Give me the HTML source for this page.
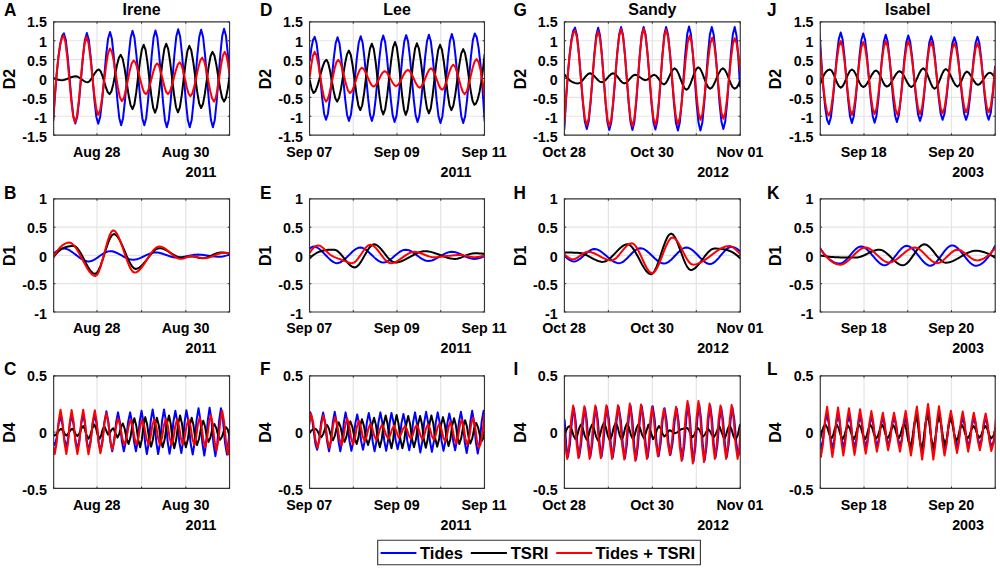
<!DOCTYPE html>
<html><head><meta charset="utf-8"><style>
html,body{margin:0;padding:0;background:#fff;width:1000px;height:569px;overflow:hidden}
body{position:relative}
svg text{font-family:"Liberation Sans", sans-serif;font-weight:bold;fill:#000}
</style></head><body>
<svg width="1000" height="569" viewBox="0 0 1000 569" style="position:absolute;left:0;top:0">
<defs>
<clipPath id="cp00"><rect x="53.66" y="21.87" width="175.89" height="113.27"/></clipPath>
<clipPath id="cp01"><rect x="309.54" y="21.87" width="174.92" height="113.27"/></clipPath>
<clipPath id="cp02"><rect x="564.40" y="21.87" width="175.86" height="113.27"/></clipPath>
<clipPath id="cp03"><rect x="820.27" y="21.87" width="174.96" height="113.27"/></clipPath>
<clipPath id="cp10"><rect x="53.66" y="198.89" width="175.89" height="113.07"/></clipPath>
<clipPath id="cp11"><rect x="309.54" y="198.89" width="174.92" height="113.07"/></clipPath>
<clipPath id="cp12"><rect x="564.40" y="198.89" width="175.86" height="113.07"/></clipPath>
<clipPath id="cp13"><rect x="820.27" y="198.89" width="174.96" height="113.07"/></clipPath>
<clipPath id="cp20"><rect x="53.66" y="375.87" width="175.89" height="112.51"/></clipPath>
<clipPath id="cp21"><rect x="309.54" y="375.87" width="174.92" height="112.51"/></clipPath>
<clipPath id="cp22"><rect x="564.40" y="375.87" width="175.86" height="112.51"/></clipPath>
<clipPath id="cp23"><rect x="820.27" y="375.87" width="174.96" height="112.51"/></clipPath>
</defs>
<line x1="97.00" y1="21.87" x2="97.00" y2="135.14" stroke="#e4e4e4" stroke-width="1.2"/>
<line x1="141.60" y1="21.87" x2="141.60" y2="135.14" stroke="#e4e4e4" stroke-width="1.2"/>
<line x1="185.80" y1="21.87" x2="185.80" y2="135.14" stroke="#e4e4e4" stroke-width="1.2"/>
<line x1="53.66" y1="40.75" x2="229.55" y2="40.75" stroke="#e4e4e4" stroke-width="1.2"/>
<line x1="53.66" y1="59.63" x2="229.55" y2="59.63" stroke="#e4e4e4" stroke-width="1.2"/>
<line x1="53.66" y1="78.50" x2="229.55" y2="78.50" stroke="#e4e4e4" stroke-width="1.2"/>
<line x1="53.66" y1="97.38" x2="229.55" y2="97.38" stroke="#e4e4e4" stroke-width="1.2"/>
<line x1="53.66" y1="116.26" x2="229.55" y2="116.26" stroke="#e4e4e4" stroke-width="1.2"/>
<line x1="53.66" y1="135.14" x2="53.66" y2="133.34" stroke="#262626" stroke-width="1"/>
<line x1="53.66" y1="21.87" x2="53.66" y2="23.67" stroke="#262626" stroke-width="1"/>
<line x1="97.00" y1="135.14" x2="97.00" y2="133.34" stroke="#262626" stroke-width="1"/>
<line x1="97.00" y1="21.87" x2="97.00" y2="23.67" stroke="#262626" stroke-width="1"/>
<line x1="141.60" y1="135.14" x2="141.60" y2="133.34" stroke="#262626" stroke-width="1"/>
<line x1="141.60" y1="21.87" x2="141.60" y2="23.67" stroke="#262626" stroke-width="1"/>
<line x1="185.80" y1="135.14" x2="185.80" y2="133.34" stroke="#262626" stroke-width="1"/>
<line x1="185.80" y1="21.87" x2="185.80" y2="23.67" stroke="#262626" stroke-width="1"/>
<line x1="229.55" y1="135.14" x2="229.55" y2="133.34" stroke="#262626" stroke-width="1"/>
<line x1="229.55" y1="21.87" x2="229.55" y2="23.67" stroke="#262626" stroke-width="1"/>
<line x1="53.66" y1="21.87" x2="55.46" y2="21.87" stroke="#262626" stroke-width="1"/>
<line x1="229.55" y1="21.87" x2="227.75" y2="21.87" stroke="#262626" stroke-width="1"/>
<line x1="53.66" y1="40.75" x2="55.46" y2="40.75" stroke="#262626" stroke-width="1"/>
<line x1="229.55" y1="40.75" x2="227.75" y2="40.75" stroke="#262626" stroke-width="1"/>
<line x1="53.66" y1="59.63" x2="55.46" y2="59.63" stroke="#262626" stroke-width="1"/>
<line x1="229.55" y1="59.63" x2="227.75" y2="59.63" stroke="#262626" stroke-width="1"/>
<line x1="53.66" y1="78.50" x2="55.46" y2="78.50" stroke="#262626" stroke-width="1"/>
<line x1="229.55" y1="78.50" x2="227.75" y2="78.50" stroke="#262626" stroke-width="1"/>
<line x1="53.66" y1="97.38" x2="55.46" y2="97.38" stroke="#262626" stroke-width="1"/>
<line x1="229.55" y1="97.38" x2="227.75" y2="97.38" stroke="#262626" stroke-width="1"/>
<line x1="53.66" y1="116.26" x2="55.46" y2="116.26" stroke="#262626" stroke-width="1"/>
<line x1="229.55" y1="116.26" x2="227.75" y2="116.26" stroke="#262626" stroke-width="1"/>
<line x1="53.66" y1="135.14" x2="55.46" y2="135.14" stroke="#262626" stroke-width="1"/>
<line x1="229.55" y1="135.14" x2="227.75" y2="135.14" stroke="#262626" stroke-width="1"/>
<g clip-path="url(#cp00)" fill="none" stroke-width="2.00" stroke-linejoin="round" stroke-linecap="round">
<path d="M53.22 120.89L55.00 94.61L56.79 72.86L58.57 55.77L60.36 43.43L62.15 35.95L63.93 33.43L65.83 40.10L67.72 56.78L69.61 78.45L71.51 100.12L73.40 116.80L75.29 123.47L77.22 116.77L79.15 100.01L81.08 78.24L83.01 56.46L84.94 39.71L86.87 33.01L88.76 39.72L90.66 56.51L92.55 78.34L94.44 100.17L96.34 116.96L98.23 123.68L100.20 116.88L102.16 99.89L104.13 77.81L106.09 55.72L108.06 38.73L110.02 31.93L111.88 38.84L113.74 56.11L115.59 78.56L117.45 101.01L119.31 118.27L121.17 125.18L123.06 118.19L124.96 100.73L126.85 78.02L128.74 55.31L130.64 37.85L132.53 30.86L134.49 37.85L136.46 55.31L138.42 78.02L140.39 100.73L142.35 118.19L144.32 125.18L146.18 118.16L148.04 100.62L149.89 77.81L151.75 55.00L153.61 37.45L155.47 30.43L157.36 37.61L159.25 55.55L161.15 78.88L163.04 102.20L164.93 120.15L166.83 127.32L168.72 120.05L170.61 101.87L172.51 78.24L174.40 54.60L176.30 36.42L178.19 29.15L180.12 36.42L182.05 54.60L183.98 78.24L185.91 101.87L187.83 120.05L189.76 127.32L191.66 120.10L193.55 102.04L195.44 78.56L197.34 55.08L199.23 37.01L201.13 29.79L203.09 37.01L205.06 55.08L207.02 78.56L208.99 102.04L210.95 120.10L212.92 127.32L214.77 120.02L216.63 101.76L218.49 78.02L220.35 54.28L222.20 36.02L224.06 28.72L225.92 35.41L227.78 53.07L229.64 78.02" stroke="#0000ff"/>
<path d="M53.22 78.02L54.93 78.74L56.65 79.33L58.36 79.78L60.08 80.07L61.79 80.17L63.53 80.00L65.27 79.56L67.02 78.94L68.76 78.24L70.50 77.53L72.24 76.91L73.98 76.47L75.72 76.31L77.69 76.75L79.65 77.86L81.62 79.31L83.58 80.75L85.55 81.86L87.51 82.31L89.41 81.36L91.30 78.97L93.19 75.88L95.09 72.78L96.98 70.40L98.87 69.45L100.66 71.27L102.45 75.84L104.23 81.77L106.02 87.71L107.81 92.27L109.59 94.10L111.45 91.19L113.31 83.93L115.17 74.48L117.02 65.04L118.88 57.78L120.74 54.87L122.70 58.89L124.67 68.93L126.63 81.99L128.60 95.04L130.56 105.09L132.53 109.10L134.39 104.34L136.25 92.43L138.10 76.95L139.96 61.47L141.82 49.56L143.68 44.80L145.57 49.83L147.46 62.41L149.36 78.77L151.25 95.13L153.14 107.71L155.04 112.75L156.90 107.64L158.75 94.85L160.61 78.24L162.47 61.62L164.33 48.84L166.18 43.72L168.15 48.80L170.11 61.51L172.08 78.02L174.04 94.54L176.01 107.24L177.97 112.32L179.87 107.40L181.76 95.09L183.65 79.09L185.55 63.10L187.44 50.79L189.34 45.87L191.30 50.47L193.27 61.98L195.23 76.95L197.20 91.92L199.16 103.43L201.13 108.03L203.02 103.87L204.91 93.47L206.81 79.95L208.70 66.43L210.59 56.03L212.49 51.87L214.42 55.55L216.35 64.76L218.27 76.74L220.20 88.71L222.13 97.92L224.06 101.60L225.92 98.03L227.78 88.75L229.64 75.88" stroke="#000000"/>
<path d="M53.22 119.82L54.93 95.04L56.65 74.25L58.36 57.67L60.08 45.55L61.79 38.11L63.50 35.58L65.43 42.01L67.36 58.09L69.29 78.99L71.22 99.89L73.15 115.96L75.08 122.39L76.97 116.06L78.87 100.22L80.76 79.63L82.65 59.04L84.55 43.20L86.44 36.86L88.41 42.64L90.37 57.09L92.34 75.88L94.30 94.66L96.27 109.11L98.23 114.89L100.20 109.97L102.16 97.66L104.13 81.67L106.09 65.67L108.06 53.36L110.02 48.44L111.99 52.35L113.95 62.11L115.92 74.81L117.88 87.50L119.85 97.27L121.81 101.17L123.78 98.16L125.74 90.61L127.71 80.81L129.67 71.00L131.64 63.46L133.60 60.44L135.35 62.31L137.09 67.12L138.84 73.69L140.58 80.85L142.33 87.43L144.07 92.23L145.82 94.10L147.71 91.83L149.61 86.15L151.50 78.77L153.39 71.39L155.29 65.72L157.18 63.44L158.97 65.72L160.75 71.39L162.54 78.77L164.33 86.15L166.11 91.83L167.90 94.10L169.86 91.75L171.83 85.87L173.79 78.24L175.76 70.60L177.72 64.72L179.69 62.37L181.48 64.88L183.26 71.15L185.05 79.31L186.83 87.46L188.62 93.73L190.41 96.24L192.37 93.38L194.34 86.24L196.30 76.95L198.27 67.66L200.23 60.52L202.20 57.66L204.16 60.91L206.13 69.05L208.09 79.63L210.06 90.21L212.02 98.35L213.99 101.60L215.77 97.92L217.56 88.71L219.35 76.74L221.13 64.76L222.92 55.55L224.71 51.87L226.35 55.05L227.99 63.32L229.64 74.81" stroke="#ff0000"/>
</g>
<rect x="53.66" y="21.87" width="175.89" height="113.27" fill="none" stroke="#333333" stroke-width="1.15" stroke-linejoin="round"/>
<text transform="translate(46.96 27.43) scale(1 1.04)" text-anchor="end" font-size="14.3">1.5</text>
<text transform="translate(46.96 46.53) scale(1 1.04)" text-anchor="end" font-size="14.3">1</text>
<text transform="translate(46.96 65.62) scale(1 1.04)" text-anchor="end" font-size="14.3">0.5</text>
<text transform="translate(46.96 84.72) scale(1 1.04)" text-anchor="end" font-size="14.3">0</text>
<text transform="translate(46.96 103.81) scale(1 1.04)" text-anchor="end" font-size="14.3">-0.5</text>
<text transform="translate(46.96 122.90) scale(1 1.04)" text-anchor="end" font-size="14.3">-1</text>
<text transform="translate(46.96 142.00) scale(1 1.04)" text-anchor="end" font-size="14.3">-1.5</text>
<text transform="translate(96.70 156.54) scale(1 1.04)" text-anchor="middle" font-size="14.3">Aug 28</text>
<text transform="translate(185.50 156.54) scale(1 1.04)" text-anchor="middle" font-size="14.3">Aug 30</text>
<text transform="translate(216.55 176.54) scale(1 1.04)" text-anchor="end" font-size="14.3">2011</text>
<text transform="translate(14.76 89.18) rotate(-90) scale(1 1.04)" font-size="16">D2</text>
<text transform="translate(4.00 15.60) scale(1 1.04)" font-size="17.2">A</text>
<line x1="353.27" y1="21.87" x2="353.27" y2="135.14" stroke="#e4e4e4" stroke-width="1.2"/>
<line x1="397.00" y1="21.87" x2="397.00" y2="135.14" stroke="#e4e4e4" stroke-width="1.2"/>
<line x1="440.73" y1="21.87" x2="440.73" y2="135.14" stroke="#e4e4e4" stroke-width="1.2"/>
<line x1="309.54" y1="40.75" x2="484.46" y2="40.75" stroke="#e4e4e4" stroke-width="1.2"/>
<line x1="309.54" y1="59.63" x2="484.46" y2="59.63" stroke="#e4e4e4" stroke-width="1.2"/>
<line x1="309.54" y1="78.50" x2="484.46" y2="78.50" stroke="#e4e4e4" stroke-width="1.2"/>
<line x1="309.54" y1="97.38" x2="484.46" y2="97.38" stroke="#e4e4e4" stroke-width="1.2"/>
<line x1="309.54" y1="116.26" x2="484.46" y2="116.26" stroke="#e4e4e4" stroke-width="1.2"/>
<line x1="309.54" y1="135.14" x2="309.54" y2="133.34" stroke="#262626" stroke-width="1"/>
<line x1="309.54" y1="21.87" x2="309.54" y2="23.67" stroke="#262626" stroke-width="1"/>
<line x1="353.27" y1="135.14" x2="353.27" y2="133.34" stroke="#262626" stroke-width="1"/>
<line x1="353.27" y1="21.87" x2="353.27" y2="23.67" stroke="#262626" stroke-width="1"/>
<line x1="397.00" y1="135.14" x2="397.00" y2="133.34" stroke="#262626" stroke-width="1"/>
<line x1="397.00" y1="21.87" x2="397.00" y2="23.67" stroke="#262626" stroke-width="1"/>
<line x1="440.73" y1="135.14" x2="440.73" y2="133.34" stroke="#262626" stroke-width="1"/>
<line x1="440.73" y1="21.87" x2="440.73" y2="23.67" stroke="#262626" stroke-width="1"/>
<line x1="484.46" y1="135.14" x2="484.46" y2="133.34" stroke="#262626" stroke-width="1"/>
<line x1="484.46" y1="21.87" x2="484.46" y2="23.67" stroke="#262626" stroke-width="1"/>
<line x1="309.54" y1="21.87" x2="311.34" y2="21.87" stroke="#262626" stroke-width="1"/>
<line x1="484.46" y1="21.87" x2="482.66" y2="21.87" stroke="#262626" stroke-width="1"/>
<line x1="309.54" y1="40.75" x2="311.34" y2="40.75" stroke="#262626" stroke-width="1"/>
<line x1="484.46" y1="40.75" x2="482.66" y2="40.75" stroke="#262626" stroke-width="1"/>
<line x1="309.54" y1="59.63" x2="311.34" y2="59.63" stroke="#262626" stroke-width="1"/>
<line x1="484.46" y1="59.63" x2="482.66" y2="59.63" stroke="#262626" stroke-width="1"/>
<line x1="309.54" y1="78.50" x2="311.34" y2="78.50" stroke="#262626" stroke-width="1"/>
<line x1="484.46" y1="78.50" x2="482.66" y2="78.50" stroke="#262626" stroke-width="1"/>
<line x1="309.54" y1="97.38" x2="311.34" y2="97.38" stroke="#262626" stroke-width="1"/>
<line x1="484.46" y1="97.38" x2="482.66" y2="97.38" stroke="#262626" stroke-width="1"/>
<line x1="309.54" y1="116.26" x2="311.34" y2="116.26" stroke="#262626" stroke-width="1"/>
<line x1="484.46" y1="116.26" x2="482.66" y2="116.26" stroke="#262626" stroke-width="1"/>
<line x1="309.54" y1="135.14" x2="311.34" y2="135.14" stroke="#262626" stroke-width="1"/>
<line x1="484.46" y1="135.14" x2="482.66" y2="135.14" stroke="#262626" stroke-width="1"/>
<g clip-path="url(#cp01)" fill="none" stroke-width="2.00" stroke-linejoin="round" stroke-linecap="round">
<path d="M309.72 60.87L311.36 48.40L313.00 39.96L314.65 36.86L316.54 43.01L318.43 58.37L320.33 78.34L322.22 98.31L324.11 113.68L326.01 119.82L327.94 113.71L329.87 98.43L331.80 78.56L333.72 58.69L335.65 43.41L337.58 37.29L339.48 43.49L341.37 58.97L343.26 79.09L345.16 99.22L347.05 114.70L348.94 120.89L350.91 114.62L352.87 98.94L354.84 78.56L356.80 58.17L358.77 42.49L360.73 36.22L362.59 42.49L364.45 58.17L366.31 78.56L368.17 98.94L370.02 114.62L371.88 120.89L373.77 114.57L375.67 98.77L377.56 78.24L379.46 57.70L381.35 41.90L383.24 35.58L385.14 41.98L387.03 57.97L388.92 78.77L390.82 99.57L392.71 115.57L394.60 121.97L396.53 115.53L398.46 99.46L400.39 78.56L402.32 57.66L404.25 41.58L406.18 35.15L408.07 41.58L409.97 57.66L411.86 78.56L413.75 99.46L415.65 115.53L417.54 121.97L419.43 115.50L421.33 99.35L423.22 78.34L425.11 57.34L427.01 41.18L428.90 34.72L430.83 41.26L432.76 57.62L434.69 78.88L436.62 100.14L438.55 116.50L440.48 123.04L442.37 116.45L444.26 99.97L446.16 78.56L448.05 57.14L449.94 40.67L451.84 34.08L453.73 40.67L455.63 57.14L457.52 78.56L459.41 99.97L461.31 116.45L463.20 123.04L465.13 116.40L467.06 99.81L468.99 78.24L470.92 56.66L472.85 40.07L474.77 33.43L476.75 37.32L478.72 48.59L480.69 66.66L482.66 90.96L484.64 120.89" stroke="#0000ff"/>
<path d="M309.72 80.17L311.65 88.86L313.57 93.03L315.41 91.19L317.25 86.44L319.09 79.95L320.92 72.88L322.76 66.39L324.60 61.64L326.44 59.80L328.22 62.90L330.01 70.64L331.80 80.70L333.58 90.76L335.37 98.50L337.15 101.60L339.12 97.82L341.08 88.37L343.05 76.09L345.01 63.81L346.98 54.36L348.94 50.58L350.84 55.00L352.73 66.03L354.62 80.38L356.52 94.73L358.41 105.76L360.31 110.18L362.23 105.25L364.16 92.95L366.09 76.95L368.02 60.95L369.95 48.65L371.88 43.72L373.77 48.96L375.67 62.06L377.56 79.09L379.46 96.12L381.35 109.22L383.24 114.46L385.21 109.10L387.17 95.68L389.14 78.24L391.10 60.79L393.07 47.38L395.03 42.01L396.82 47.41L398.60 60.90L400.39 78.45L402.18 96.00L403.96 109.49L405.75 114.89L407.61 109.59L409.47 96.33L411.32 79.09L413.18 61.86L415.04 48.60L416.90 43.29L418.90 48.49L420.90 61.47L422.90 78.34L424.90 95.22L426.90 108.20L428.90 113.39L430.76 108.31L432.62 95.61L434.47 79.09L436.33 62.58L438.19 49.88L440.05 44.80L441.94 49.64L443.84 61.75L445.73 77.49L447.62 93.23L449.52 105.33L451.41 110.18L453.37 105.65L455.34 94.34L457.30 79.63L459.27 64.92L461.23 53.61L463.20 49.08L465.06 53.21L466.91 63.53L468.77 76.95L470.63 90.37L472.49 100.69L474.35 104.82L476.06 103.38L477.78 99.11L479.49 92.04L481.21 82.21L482.92 69.66L484.64 54.44" stroke="#000000"/>
<path d="M309.72 76.95L311.36 64.64L313.00 55.47L314.65 51.87L316.54 55.55L318.43 64.76L320.33 76.74L322.22 88.71L324.11 97.92L326.01 101.60L327.75 99.29L329.50 93.31L331.24 85.15L332.99 76.25L334.74 68.09L336.48 62.12L338.23 59.80L340.19 62.26L342.16 68.41L344.12 76.41L346.09 84.41L348.05 90.57L350.02 93.03L351.98 91.15L353.95 86.47L355.91 80.38L357.88 74.29L359.84 69.61L361.81 67.73L363.77 69.13L365.74 72.62L367.70 77.16L369.67 81.71L371.63 85.20L373.60 86.60L375.45 85.45L377.31 82.59L379.17 78.88L381.03 75.16L382.88 72.31L384.74 71.16L386.64 72.27L388.53 75.05L390.42 78.66L392.32 82.28L394.21 85.06L396.10 86.17L398.07 84.96L400.03 81.94L402.00 78.02L403.96 74.10L405.93 71.08L407.89 69.88L409.86 71.19L411.82 74.49L413.79 78.77L415.75 83.05L417.72 86.35L419.68 87.67L421.58 86.24L423.47 82.67L425.36 78.02L427.26 73.38L429.15 69.80L431.05 68.38L432.90 69.96L434.76 73.93L436.62 79.09L438.48 84.25L440.33 88.22L442.19 89.81L444.05 87.95L445.91 83.31L447.77 77.27L449.62 71.23L451.48 66.59L453.34 64.73L455.23 66.91L457.13 72.34L459.02 79.41L460.91 86.48L462.81 91.92L464.70 94.10L466.66 91.51L468.63 85.04L470.59 76.63L472.56 68.22L474.52 61.75L476.49 59.16L478.53 62.04L480.56 69.94L482.60 81.71L484.64 96.24" stroke="#ff0000"/>
</g>
<rect x="309.54" y="21.87" width="174.92" height="113.27" fill="none" stroke="#333333" stroke-width="1.15" stroke-linejoin="round"/>
<text transform="translate(302.84 27.43) scale(1 1.04)" text-anchor="end" font-size="14.3">1.5</text>
<text transform="translate(302.84 46.53) scale(1 1.04)" text-anchor="end" font-size="14.3">1</text>
<text transform="translate(302.84 65.62) scale(1 1.04)" text-anchor="end" font-size="14.3">0.5</text>
<text transform="translate(302.84 84.72) scale(1 1.04)" text-anchor="end" font-size="14.3">0</text>
<text transform="translate(302.84 103.81) scale(1 1.04)" text-anchor="end" font-size="14.3">-0.5</text>
<text transform="translate(302.84 122.90) scale(1 1.04)" text-anchor="end" font-size="14.3">-1</text>
<text transform="translate(302.84 142.00) scale(1 1.04)" text-anchor="end" font-size="14.3">-1.5</text>
<text transform="translate(309.24 156.54) scale(1 1.04)" text-anchor="middle" font-size="14.3">Sep 07</text>
<text transform="translate(396.70 156.54) scale(1 1.04)" text-anchor="middle" font-size="14.3">Sep 09</text>
<text transform="translate(484.16 156.54) scale(1 1.04)" text-anchor="middle" font-size="14.3">Sep 11</text>
<text transform="translate(471.46 176.54) scale(1 1.04)" text-anchor="end" font-size="14.3">2011</text>
<text transform="translate(270.64 89.18) rotate(-90) scale(1 1.04)" font-size="16">D2</text>
<text transform="translate(260.00 15.60) scale(1 1.04)" font-size="17.2">D</text>
<line x1="608.37" y1="21.87" x2="608.37" y2="135.14" stroke="#e4e4e4" stroke-width="1.2"/>
<line x1="652.33" y1="21.87" x2="652.33" y2="135.14" stroke="#e4e4e4" stroke-width="1.2"/>
<line x1="696.29" y1="21.87" x2="696.29" y2="135.14" stroke="#e4e4e4" stroke-width="1.2"/>
<line x1="564.40" y1="40.75" x2="740.26" y2="40.75" stroke="#e4e4e4" stroke-width="1.2"/>
<line x1="564.40" y1="59.63" x2="740.26" y2="59.63" stroke="#e4e4e4" stroke-width="1.2"/>
<line x1="564.40" y1="78.50" x2="740.26" y2="78.50" stroke="#e4e4e4" stroke-width="1.2"/>
<line x1="564.40" y1="97.38" x2="740.26" y2="97.38" stroke="#e4e4e4" stroke-width="1.2"/>
<line x1="564.40" y1="116.26" x2="740.26" y2="116.26" stroke="#e4e4e4" stroke-width="1.2"/>
<line x1="564.40" y1="135.14" x2="564.40" y2="133.34" stroke="#262626" stroke-width="1"/>
<line x1="564.40" y1="21.87" x2="564.40" y2="23.67" stroke="#262626" stroke-width="1"/>
<line x1="608.37" y1="135.14" x2="608.37" y2="133.34" stroke="#262626" stroke-width="1"/>
<line x1="608.37" y1="21.87" x2="608.37" y2="23.67" stroke="#262626" stroke-width="1"/>
<line x1="652.33" y1="135.14" x2="652.33" y2="133.34" stroke="#262626" stroke-width="1"/>
<line x1="652.33" y1="21.87" x2="652.33" y2="23.67" stroke="#262626" stroke-width="1"/>
<line x1="696.29" y1="135.14" x2="696.29" y2="133.34" stroke="#262626" stroke-width="1"/>
<line x1="696.29" y1="21.87" x2="696.29" y2="23.67" stroke="#262626" stroke-width="1"/>
<line x1="740.26" y1="135.14" x2="740.26" y2="133.34" stroke="#262626" stroke-width="1"/>
<line x1="740.26" y1="21.87" x2="740.26" y2="23.67" stroke="#262626" stroke-width="1"/>
<line x1="564.40" y1="21.87" x2="566.20" y2="21.87" stroke="#262626" stroke-width="1"/>
<line x1="740.26" y1="21.87" x2="738.46" y2="21.87" stroke="#262626" stroke-width="1"/>
<line x1="564.40" y1="40.75" x2="566.20" y2="40.75" stroke="#262626" stroke-width="1"/>
<line x1="740.26" y1="40.75" x2="738.46" y2="40.75" stroke="#262626" stroke-width="1"/>
<line x1="564.40" y1="59.63" x2="566.20" y2="59.63" stroke="#262626" stroke-width="1"/>
<line x1="740.26" y1="59.63" x2="738.46" y2="59.63" stroke="#262626" stroke-width="1"/>
<line x1="564.40" y1="78.50" x2="566.20" y2="78.50" stroke="#262626" stroke-width="1"/>
<line x1="740.26" y1="78.50" x2="738.46" y2="78.50" stroke="#262626" stroke-width="1"/>
<line x1="564.40" y1="97.38" x2="566.20" y2="97.38" stroke="#262626" stroke-width="1"/>
<line x1="740.26" y1="97.38" x2="738.46" y2="97.38" stroke="#262626" stroke-width="1"/>
<line x1="564.40" y1="116.26" x2="566.20" y2="116.26" stroke="#262626" stroke-width="1"/>
<line x1="740.26" y1="116.26" x2="738.46" y2="116.26" stroke="#262626" stroke-width="1"/>
<line x1="564.40" y1="135.14" x2="566.20" y2="135.14" stroke="#262626" stroke-width="1"/>
<line x1="740.26" y1="135.14" x2="738.46" y2="135.14" stroke="#262626" stroke-width="1"/>
<g clip-path="url(#cp02)" fill="none" stroke-width="2.00" stroke-linejoin="round" stroke-linecap="round">
<path d="M564.29 129.47L566.07 99.45L567.86 74.30L569.65 54.28L571.43 39.66L573.22 30.69L575.01 27.65L576.97 35.16L578.94 53.93L580.90 78.34L582.87 102.75L584.83 121.53L586.80 129.04L588.69 121.53L590.58 102.75L592.48 78.34L594.37 53.93L596.26 35.16L598.16 27.65L600.01 35.22L601.87 54.16L603.73 78.77L605.59 103.39L607.45 122.32L609.30 129.90L611.27 122.28L613.23 103.22L615.20 78.45L617.16 53.68L619.13 34.62L621.09 27.00L622.99 34.62L624.88 53.68L626.77 78.45L628.67 103.22L630.56 122.28L632.45 129.90L634.31 122.28L636.17 103.22L638.03 78.45L639.89 53.68L641.74 34.62L643.60 27.00L645.57 34.59L647.53 53.57L649.50 78.24L651.46 102.90L653.43 121.88L655.39 129.47L657.18 121.88L658.96 102.90L660.75 78.24L662.54 53.57L664.32 34.59L666.11 27.00L668.07 34.67L670.04 53.85L672.00 78.77L673.97 103.70L675.93 122.87L677.90 130.54L679.76 122.84L681.61 103.59L683.47 78.56L685.33 53.53L687.19 34.28L689.05 26.57L690.94 34.28L692.83 53.53L694.73 78.56L696.62 103.59L698.51 122.84L700.41 130.54L702.30 122.87L704.19 103.70L706.09 78.77L707.98 53.85L709.87 34.67L711.77 27.00L713.70 34.56L715.63 53.46L717.56 78.02L719.49 102.59L721.41 121.48L723.34 129.04L725.24 121.48L727.13 102.59L729.02 78.02L730.92 53.46L732.81 34.56L734.71 27.00L736.49 35.48L738.28 57.20L740.06 86.60" stroke="#0000ff"/>
<path d="M564.29 74.16L566.03 76.54L567.77 78.51L569.51 80.11L571.25 81.35L573.00 82.28L574.74 82.91L576.48 83.27L578.22 83.38L580.19 82.63L582.15 80.77L584.12 78.34L586.08 75.92L588.05 74.05L590.01 73.31L591.98 73.97L593.94 75.64L595.91 77.81L597.87 79.97L599.84 81.64L601.80 82.31L603.69 81.64L605.59 79.97L607.48 77.81L609.37 75.64L611.27 73.97L613.16 73.31L615.02 74.05L616.88 75.92L618.74 78.34L620.59 80.77L622.45 82.63L624.31 83.38L626.10 82.75L627.88 81.16L629.67 79.09L631.45 77.03L633.24 75.44L635.03 74.81L636.81 75.20L638.60 76.20L640.39 77.49L642.17 78.78L643.96 79.77L645.74 80.17L647.46 79.61L649.17 78.28L650.89 76.69L652.60 75.36L654.32 74.81L656.25 75.81L658.18 78.20L660.11 81.06L662.04 83.45L663.97 84.45L665.75 83.26L667.54 80.28L669.32 76.41L671.11 72.54L672.90 69.57L674.68 68.38L676.65 69.96L678.61 73.93L680.58 79.09L682.54 84.25L684.51 88.22L686.47 89.81L688.44 88.14L690.40 83.98L692.37 78.56L694.33 73.14L696.30 68.97L698.26 67.30L700.23 68.89L702.19 72.86L704.16 78.02L706.12 83.18L708.09 87.15L710.05 88.74L711.89 87.61L713.73 84.70L715.57 80.72L717.40 76.39L719.24 72.41L721.08 69.50L722.92 68.38L724.88 69.88L726.85 73.65L728.81 78.56L730.78 83.46L732.74 87.23L734.71 88.74L736.49 87.74L738.28 85.07L740.06 81.24" stroke="#000000"/>
<path d="M564.29 125.18L566.07 97.23L567.86 73.82L569.65 55.20L571.43 41.60L573.22 33.26L575.01 30.43L576.97 37.45L578.94 55.00L580.90 77.81L582.87 100.62L584.83 118.16L586.80 125.18L588.69 118.23L590.58 100.84L592.48 78.24L594.37 55.63L596.26 38.25L598.16 31.29L600.01 38.32L601.87 55.91L603.73 78.77L605.59 101.63L607.45 119.22L609.30 126.25L611.27 119.06L613.23 101.08L615.20 77.70L617.16 54.32L619.13 36.34L621.09 29.15L622.99 36.34L624.88 54.32L626.77 77.70L628.67 101.08L630.56 119.06L632.45 126.25L634.31 119.03L636.17 100.97L638.03 77.49L639.89 54.00L641.74 35.94L643.60 28.72L645.57 35.86L647.53 53.73L649.50 76.95L651.46 100.17L653.43 118.04L655.39 125.18L657.18 118.12L658.96 100.45L660.75 77.49L662.54 54.52L664.32 36.86L666.11 29.79L668.07 36.78L670.04 54.24L672.00 76.95L673.97 99.66L675.93 117.12L677.90 124.11L679.86 117.55L681.83 101.16L683.79 79.84L685.76 58.53L687.72 42.14L689.69 35.58L691.48 41.82L693.26 57.42L695.05 77.70L696.83 97.98L698.62 113.58L700.41 119.82L702.37 113.74L704.34 98.54L706.30 78.77L708.27 59.01L710.23 43.80L712.20 37.72L714.06 43.72L715.91 58.73L717.77 78.24L719.63 97.74L721.49 112.75L723.34 118.75L725.24 112.80L727.13 97.91L729.02 78.56L730.92 59.21L732.81 44.32L734.71 38.36L736.49 42.66L738.28 54.09L740.06 70.52" stroke="#ff0000"/>
</g>
<rect x="564.40" y="21.87" width="175.86" height="113.27" fill="none" stroke="#333333" stroke-width="1.15" stroke-linejoin="round"/>
<text transform="translate(557.70 27.43) scale(1 1.04)" text-anchor="end" font-size="14.3">1.5</text>
<text transform="translate(557.70 46.53) scale(1 1.04)" text-anchor="end" font-size="14.3">1</text>
<text transform="translate(557.70 65.62) scale(1 1.04)" text-anchor="end" font-size="14.3">0.5</text>
<text transform="translate(557.70 84.72) scale(1 1.04)" text-anchor="end" font-size="14.3">0</text>
<text transform="translate(557.70 103.81) scale(1 1.04)" text-anchor="end" font-size="14.3">-0.5</text>
<text transform="translate(557.70 122.90) scale(1 1.04)" text-anchor="end" font-size="14.3">-1</text>
<text transform="translate(557.70 142.00) scale(1 1.04)" text-anchor="end" font-size="14.3">-1.5</text>
<text transform="translate(564.10 156.54) scale(1 1.04)" text-anchor="middle" font-size="14.3">Oct 28</text>
<text transform="translate(652.03 156.54) scale(1 1.04)" text-anchor="middle" font-size="14.3">Oct 30</text>
<text transform="translate(739.96 156.54) scale(1 1.04)" text-anchor="middle" font-size="14.3">Nov 01</text>
<text transform="translate(728.96 176.54) scale(1 1.04)" text-anchor="end" font-size="14.3">2012</text>
<text transform="translate(525.50 89.18) rotate(-90) scale(1 1.04)" font-size="16">D2</text>
<text transform="translate(513.50 15.60) scale(1 1.04)" font-size="17.2">G</text>
<line x1="864.01" y1="21.87" x2="864.01" y2="135.14" stroke="#e4e4e4" stroke-width="1.2"/>
<line x1="907.75" y1="21.87" x2="907.75" y2="135.14" stroke="#e4e4e4" stroke-width="1.2"/>
<line x1="951.49" y1="21.87" x2="951.49" y2="135.14" stroke="#e4e4e4" stroke-width="1.2"/>
<line x1="820.27" y1="40.75" x2="995.23" y2="40.75" stroke="#e4e4e4" stroke-width="1.2"/>
<line x1="820.27" y1="59.63" x2="995.23" y2="59.63" stroke="#e4e4e4" stroke-width="1.2"/>
<line x1="820.27" y1="78.50" x2="995.23" y2="78.50" stroke="#e4e4e4" stroke-width="1.2"/>
<line x1="820.27" y1="97.38" x2="995.23" y2="97.38" stroke="#e4e4e4" stroke-width="1.2"/>
<line x1="820.27" y1="116.26" x2="995.23" y2="116.26" stroke="#e4e4e4" stroke-width="1.2"/>
<line x1="820.27" y1="135.14" x2="820.27" y2="133.34" stroke="#262626" stroke-width="1"/>
<line x1="820.27" y1="21.87" x2="820.27" y2="23.67" stroke="#262626" stroke-width="1"/>
<line x1="864.01" y1="135.14" x2="864.01" y2="133.34" stroke="#262626" stroke-width="1"/>
<line x1="864.01" y1="21.87" x2="864.01" y2="23.67" stroke="#262626" stroke-width="1"/>
<line x1="907.75" y1="135.14" x2="907.75" y2="133.34" stroke="#262626" stroke-width="1"/>
<line x1="907.75" y1="21.87" x2="907.75" y2="23.67" stroke="#262626" stroke-width="1"/>
<line x1="951.49" y1="135.14" x2="951.49" y2="133.34" stroke="#262626" stroke-width="1"/>
<line x1="951.49" y1="21.87" x2="951.49" y2="23.67" stroke="#262626" stroke-width="1"/>
<line x1="995.23" y1="135.14" x2="995.23" y2="133.34" stroke="#262626" stroke-width="1"/>
<line x1="995.23" y1="21.87" x2="995.23" y2="23.67" stroke="#262626" stroke-width="1"/>
<line x1="820.27" y1="21.87" x2="822.07" y2="21.87" stroke="#262626" stroke-width="1"/>
<line x1="995.23" y1="21.87" x2="993.43" y2="21.87" stroke="#262626" stroke-width="1"/>
<line x1="820.27" y1="40.75" x2="822.07" y2="40.75" stroke="#262626" stroke-width="1"/>
<line x1="995.23" y1="40.75" x2="993.43" y2="40.75" stroke="#262626" stroke-width="1"/>
<line x1="820.27" y1="59.63" x2="822.07" y2="59.63" stroke="#262626" stroke-width="1"/>
<line x1="995.23" y1="59.63" x2="993.43" y2="59.63" stroke="#262626" stroke-width="1"/>
<line x1="820.27" y1="78.50" x2="822.07" y2="78.50" stroke="#262626" stroke-width="1"/>
<line x1="995.23" y1="78.50" x2="993.43" y2="78.50" stroke="#262626" stroke-width="1"/>
<line x1="820.27" y1="97.38" x2="822.07" y2="97.38" stroke="#262626" stroke-width="1"/>
<line x1="995.23" y1="97.38" x2="993.43" y2="97.38" stroke="#262626" stroke-width="1"/>
<line x1="820.27" y1="116.26" x2="822.07" y2="116.26" stroke="#262626" stroke-width="1"/>
<line x1="995.23" y1="116.26" x2="993.43" y2="116.26" stroke="#262626" stroke-width="1"/>
<line x1="820.27" y1="135.14" x2="822.07" y2="135.14" stroke="#262626" stroke-width="1"/>
<line x1="995.23" y1="135.14" x2="993.43" y2="135.14" stroke="#262626" stroke-width="1"/>
<g clip-path="url(#cp03)" fill="none" stroke-width="2.00" stroke-linejoin="round" stroke-linecap="round">
<path d="M819.72 34.08L821.56 64.04L823.40 88.94L825.25 107.87L827.09 119.90L828.93 124.11L830.90 117.33L832.86 100.38L834.83 78.34L836.79 56.31L838.76 39.36L840.72 32.58L842.58 39.28L844.44 56.03L846.30 77.81L848.15 99.58L850.01 116.34L851.87 123.04L853.76 116.40L855.66 99.81L857.55 78.24L859.44 56.66L861.34 40.07L863.23 33.43L865.13 40.04L867.02 56.55L868.91 78.02L870.81 99.49L872.70 116.00L874.59 122.61L876.45 116.10L878.31 99.82L880.17 78.66L882.02 57.51L883.88 41.23L885.74 34.72L887.60 41.18L889.46 57.34L891.31 78.34L893.17 99.35L895.03 115.50L896.89 121.97L898.78 115.57L900.67 99.57L902.57 78.77L904.46 57.97L906.35 41.98L908.25 35.58L910.21 41.90L912.18 57.70L914.14 78.24L916.11 98.77L918.07 114.57L920.04 120.89L921.90 114.62L923.75 98.94L925.61 78.56L927.47 58.17L929.33 42.49L931.18 36.22L933.08 42.41L934.97 57.90L936.86 78.02L938.76 98.15L940.65 113.63L942.55 119.82L944.51 113.71L946.48 98.43L948.44 78.56L950.41 58.69L952.37 43.41L954.34 37.29L956.30 43.41L958.27 58.69L960.23 78.56L962.20 98.43L964.16 113.71L966.13 119.82L968.02 113.68L969.91 98.31L971.81 78.34L973.70 58.37L975.59 43.01L977.49 36.86L979.34 43.01L981.20 58.37L983.06 78.34L984.92 98.31L986.78 113.68L988.63 119.82L990.78 112.75L992.92 93.91L995.06 66.87" stroke="#0000ff"/>
<path d="M819.72 85.52L821.43 80.57L823.15 76.54L824.86 73.42L826.58 71.21L828.29 69.89L830.01 69.45L831.79 70.80L833.58 74.17L835.36 78.56L837.15 82.94L838.94 86.32L840.72 87.67L842.58 86.32L844.44 82.94L846.30 78.56L848.15 74.17L850.01 70.80L851.87 69.45L853.76 70.75L855.66 74.00L857.55 78.24L859.44 82.47L861.34 85.72L863.23 87.02L865.07 86.11L866.91 83.75L868.74 80.53L870.58 77.02L872.42 73.79L874.26 71.43L876.09 70.52L877.88 71.71L879.67 74.69L881.45 78.56L883.24 82.43L885.03 85.41L886.81 86.60L888.65 85.74L890.49 83.54L892.32 80.52L894.16 77.24L896.00 74.22L897.84 72.02L899.67 71.16L901.64 72.34L903.60 75.27L905.57 79.09L907.53 82.91L909.50 85.85L911.46 87.02L913.43 85.64L915.39 82.19L917.36 77.70L919.32 73.21L921.29 69.76L923.25 68.38L925.15 69.88L927.04 73.65L928.93 78.56L930.83 83.46L932.72 87.23L934.61 88.74L936.47 87.28L938.33 83.63L940.19 78.88L942.05 74.13L943.90 70.48L945.76 69.02L947.73 70.32L949.69 73.58L951.66 77.81L953.62 82.04L955.59 85.29L957.55 86.60L959.39 85.04L961.24 81.31L963.08 76.87L964.92 73.15L966.77 71.59L968.63 72.58L970.48 75.04L972.34 78.24L974.20 81.44L976.06 83.90L977.92 84.88L979.88 83.98L981.85 81.71L983.81 78.77L985.78 75.83L987.74 73.57L989.71 72.66L991.49 73.40L993.28 75.33L995.06 78.02" stroke="#000000"/>
<path d="M819.72 42.65L821.56 66.92L823.40 87.08L825.25 102.40L827.09 112.13L828.93 115.53L830.90 110.02L832.86 96.25L834.83 78.34L836.79 60.44L838.76 46.66L840.72 41.15L842.58 46.61L844.44 60.27L846.30 78.02L848.15 95.77L850.01 109.43L851.87 114.89L853.76 109.49L855.66 96.00L857.55 78.45L859.44 60.90L861.34 47.41L863.23 42.01L865.13 47.34L867.02 60.68L868.91 78.02L870.81 95.36L872.70 108.70L874.59 114.03L876.45 108.64L878.31 95.14L880.17 77.59L882.02 60.05L883.88 46.55L885.74 41.15L887.70 46.61L889.67 60.27L891.63 78.02L893.60 95.77L895.56 109.43L897.53 114.89L899.32 109.43L901.10 95.77L902.89 78.02L904.67 60.27L906.46 46.61L908.25 41.15L910.21 46.55L912.18 60.05L914.14 77.59L916.11 95.14L918.07 108.64L920.04 114.03L921.90 108.70L923.75 95.36L925.61 78.02L927.47 60.68L929.33 47.34L931.18 42.01L933.08 47.30L934.97 60.52L936.86 77.70L938.76 94.88L940.65 108.10L942.55 113.39L944.51 108.20L946.48 95.22L948.44 78.34L950.41 61.47L952.37 48.49L954.34 43.29L956.30 48.41L958.27 61.19L960.23 77.81L962.20 94.42L964.16 107.21L966.13 112.32L968.02 107.21L969.91 94.42L971.81 77.81L973.70 61.19L975.59 48.41L977.49 43.29L979.34 48.41L981.20 61.19L983.06 77.81L984.92 94.42L986.78 107.21L988.63 112.32L990.78 106.45L992.92 90.82L995.06 68.38" stroke="#ff0000"/>
</g>
<rect x="820.27" y="21.87" width="174.96" height="113.27" fill="none" stroke="#333333" stroke-width="1.15" stroke-linejoin="round"/>
<text transform="translate(813.57 27.43) scale(1 1.04)" text-anchor="end" font-size="14.3">1.5</text>
<text transform="translate(813.57 46.53) scale(1 1.04)" text-anchor="end" font-size="14.3">1</text>
<text transform="translate(813.57 65.62) scale(1 1.04)" text-anchor="end" font-size="14.3">0.5</text>
<text transform="translate(813.57 84.72) scale(1 1.04)" text-anchor="end" font-size="14.3">0</text>
<text transform="translate(813.57 103.81) scale(1 1.04)" text-anchor="end" font-size="14.3">-0.5</text>
<text transform="translate(813.57 122.90) scale(1 1.04)" text-anchor="end" font-size="14.3">-1</text>
<text transform="translate(813.57 142.00) scale(1 1.04)" text-anchor="end" font-size="14.3">-1.5</text>
<text transform="translate(863.71 156.54) scale(1 1.04)" text-anchor="middle" font-size="14.3">Sep 18</text>
<text transform="translate(951.19 156.54) scale(1 1.04)" text-anchor="middle" font-size="14.3">Sep 20</text>
<text transform="translate(983.93 176.54) scale(1 1.04)" text-anchor="end" font-size="14.3">2003</text>
<text transform="translate(781.37 89.18) rotate(-90) scale(1 1.04)" font-size="16">D2</text>
<text transform="translate(766.90 15.60) scale(1 1.04)" font-size="17.2">J</text>
<line x1="97.00" y1="198.89" x2="97.00" y2="311.96" stroke="#e4e4e4" stroke-width="1.2"/>
<line x1="141.60" y1="198.89" x2="141.60" y2="311.96" stroke="#e4e4e4" stroke-width="1.2"/>
<line x1="185.80" y1="198.89" x2="185.80" y2="311.96" stroke="#e4e4e4" stroke-width="1.2"/>
<line x1="53.66" y1="227.16" x2="229.55" y2="227.16" stroke="#e4e4e4" stroke-width="1.2"/>
<line x1="53.66" y1="255.42" x2="229.55" y2="255.42" stroke="#e4e4e4" stroke-width="1.2"/>
<line x1="53.66" y1="283.69" x2="229.55" y2="283.69" stroke="#e4e4e4" stroke-width="1.2"/>
<line x1="53.66" y1="311.96" x2="53.66" y2="310.16" stroke="#262626" stroke-width="1"/>
<line x1="53.66" y1="198.89" x2="53.66" y2="200.69" stroke="#262626" stroke-width="1"/>
<line x1="97.00" y1="311.96" x2="97.00" y2="310.16" stroke="#262626" stroke-width="1"/>
<line x1="97.00" y1="198.89" x2="97.00" y2="200.69" stroke="#262626" stroke-width="1"/>
<line x1="141.60" y1="311.96" x2="141.60" y2="310.16" stroke="#262626" stroke-width="1"/>
<line x1="141.60" y1="198.89" x2="141.60" y2="200.69" stroke="#262626" stroke-width="1"/>
<line x1="185.80" y1="311.96" x2="185.80" y2="310.16" stroke="#262626" stroke-width="1"/>
<line x1="185.80" y1="198.89" x2="185.80" y2="200.69" stroke="#262626" stroke-width="1"/>
<line x1="229.55" y1="311.96" x2="229.55" y2="310.16" stroke="#262626" stroke-width="1"/>
<line x1="229.55" y1="198.89" x2="229.55" y2="200.69" stroke="#262626" stroke-width="1"/>
<line x1="53.66" y1="198.89" x2="55.46" y2="198.89" stroke="#262626" stroke-width="1"/>
<line x1="229.55" y1="198.89" x2="227.75" y2="198.89" stroke="#262626" stroke-width="1"/>
<line x1="53.66" y1="227.16" x2="55.46" y2="227.16" stroke="#262626" stroke-width="1"/>
<line x1="229.55" y1="227.16" x2="227.75" y2="227.16" stroke="#262626" stroke-width="1"/>
<line x1="53.66" y1="255.42" x2="55.46" y2="255.42" stroke="#262626" stroke-width="1"/>
<line x1="229.55" y1="255.42" x2="227.75" y2="255.42" stroke="#262626" stroke-width="1"/>
<line x1="53.66" y1="283.69" x2="55.46" y2="283.69" stroke="#262626" stroke-width="1"/>
<line x1="229.55" y1="283.69" x2="227.75" y2="283.69" stroke="#262626" stroke-width="1"/>
<line x1="53.66" y1="311.96" x2="55.46" y2="311.96" stroke="#262626" stroke-width="1"/>
<line x1="229.55" y1="311.96" x2="227.75" y2="311.96" stroke="#262626" stroke-width="1"/>
<g clip-path="url(#cp10)" fill="none" stroke-width="2.00" stroke-linejoin="round" stroke-linecap="round">
<path d="M53.22 253.95L55.23 252.26L57.25 250.74L59.26 249.51L61.28 248.68L63.29 248.38L65.10 248.57L66.90 249.10L68.71 249.92L70.52 250.97L72.32 252.19L74.13 253.52L75.94 254.91L77.74 256.31L79.55 257.64L81.36 258.86L83.16 259.91L84.97 260.73L86.78 261.26L88.59 261.45L90.37 261.25L92.16 260.69L93.94 259.84L95.73 258.78L97.52 257.58L99.30 256.31L101.09 255.03L102.88 253.83L104.66 252.77L106.45 251.93L108.24 251.37L110.02 251.16L111.95 251.33L113.88 251.80L115.81 252.50L117.74 253.39L119.67 254.39L121.60 255.45L123.53 256.51L125.46 257.51L127.38 258.40L129.31 259.10L131.24 259.57L133.17 259.74L135.03 259.59L136.89 259.20L138.75 258.60L140.60 257.85L142.46 257.00L144.32 256.09L146.18 255.19L148.04 254.34L149.89 253.59L151.75 252.99L153.61 252.59L155.47 252.45L157.25 252.55L159.04 252.83L160.83 253.25L162.61 253.78L164.40 254.38L166.18 255.02L167.97 255.66L169.76 256.26L171.54 256.79L173.33 257.21L175.12 257.49L176.90 257.59L178.81 257.52L180.72 257.33L182.63 257.05L184.54 256.69L186.45 256.30L188.36 255.89L190.27 255.49L192.18 255.14L194.09 254.85L196.00 254.66L197.91 254.59L199.70 254.63L201.48 254.75L203.27 254.93L205.06 255.15L206.84 255.40L208.63 255.66L210.41 255.93L212.20 256.18L213.99 256.40L215.77 256.58L217.56 256.69L219.35 256.74L221.06 256.65L222.78 256.42L224.49 256.06L226.21 255.62L227.92 255.12L229.64 254.59" stroke="#0000ff"/>
<path d="M53.22 257.59L55.07 255.06L56.92 252.92L58.77 251.14L60.62 249.68L62.47 248.52L64.32 247.63L66.17 246.96L68.03 246.50L69.88 246.21L71.73 246.06L73.58 246.02L75.37 246.57L77.15 248.08L78.94 250.37L80.73 253.24L82.51 256.50L84.30 259.95L86.08 263.40L87.87 266.66L89.66 269.53L91.44 271.82L93.23 273.34L95.02 273.89L96.90 272.77L98.79 269.74L100.68 265.27L102.56 259.85L104.45 253.95L106.33 248.05L108.22 242.63L110.11 238.16L111.99 235.13L113.88 234.01L115.70 234.70L117.52 236.60L119.35 239.47L121.17 243.07L122.99 247.16L124.81 251.48L126.63 255.81L128.46 259.90L130.28 263.50L132.10 266.37L133.92 268.27L135.74 268.95L137.56 268.60L139.37 267.63L141.19 266.14L143.00 264.26L144.81 262.09L146.63 259.76L148.44 257.36L150.26 255.02L152.07 252.86L153.88 250.97L155.70 249.49L157.51 248.51L159.32 248.16L161.20 248.35L163.08 248.86L164.95 249.64L166.83 250.61L168.70 251.71L170.58 252.88L172.45 254.05L174.33 255.15L176.21 256.12L178.08 256.90L179.96 257.41L181.83 257.59L183.76 257.46L185.69 257.14L187.62 256.76L189.55 256.44L191.48 256.31L193.27 256.45L195.05 256.81L196.84 257.27L198.62 257.74L200.41 258.09L202.20 258.24L204.13 258.07L206.06 257.63L207.98 256.99L209.91 256.20L211.84 255.34L213.77 254.49L215.70 253.70L217.63 253.05L219.56 252.61L221.49 252.45L223.53 252.50L225.56 252.65L227.60 252.91L229.64 253.31" stroke="#000000"/>
<path d="M53.22 257.17L55.00 254.21L56.79 251.57L58.57 249.24L60.36 247.25L62.15 245.60L63.93 244.30L65.72 243.35L67.51 242.78L69.29 242.59L71.16 243.08L73.03 244.44L74.90 246.54L76.76 249.22L78.63 252.34L80.50 255.75L82.37 259.31L84.24 262.87L86.10 266.28L87.97 269.40L89.84 272.08L91.71 274.18L93.58 275.54L95.44 276.03L97.22 274.75L99.00 271.28L100.78 266.17L102.56 259.96L104.34 253.20L106.12 246.44L107.90 240.23L109.68 235.12L111.46 231.65L113.24 230.37L115.02 231.20L116.81 233.50L118.60 236.97L120.38 241.32L122.17 246.25L123.95 251.48L125.74 256.71L127.53 261.65L129.31 266.00L131.10 269.47L132.89 271.77L134.67 272.60L136.57 272.16L138.47 270.93L140.36 269.06L142.26 266.69L144.15 263.97L146.05 261.03L147.95 258.02L149.84 255.08L151.74 252.35L153.64 249.98L155.53 248.11L157.43 246.89L159.32 246.45L161.11 246.69L162.90 247.37L164.68 248.39L166.47 249.67L168.26 251.12L170.04 252.66L171.83 254.20L173.62 255.66L175.40 256.94L177.19 257.96L178.97 258.64L180.76 258.88L182.55 258.67L184.33 258.16L186.12 257.49L187.91 256.82L189.69 256.30L191.48 256.09L193.32 256.21L195.15 256.52L196.99 256.94L198.83 257.39L200.67 257.81L202.50 258.12L204.34 258.24L206.27 258.09L208.20 257.68L210.13 257.08L212.06 256.35L213.99 255.56L215.92 254.76L217.85 254.04L219.77 253.44L221.70 253.03L223.63 252.88L225.63 252.88L227.63 252.88L229.64 252.88" stroke="#ff0000"/>
</g>
<rect x="53.66" y="198.89" width="175.89" height="113.07" fill="none" stroke="#333333" stroke-width="1.15" stroke-linejoin="round"/>
<text transform="translate(46.96 204.45) scale(1 1.04)" text-anchor="end" font-size="14.3">1</text>
<text transform="translate(46.96 233.04) scale(1 1.04)" text-anchor="end" font-size="14.3">0.5</text>
<text transform="translate(46.96 261.63) scale(1 1.04)" text-anchor="end" font-size="14.3">0</text>
<text transform="translate(46.96 290.23) scale(1 1.04)" text-anchor="end" font-size="14.3">-0.5</text>
<text transform="translate(46.96 318.82) scale(1 1.04)" text-anchor="end" font-size="14.3">-1</text>
<text transform="translate(96.70 333.36) scale(1 1.04)" text-anchor="middle" font-size="14.3">Aug 28</text>
<text transform="translate(185.50 333.36) scale(1 1.04)" text-anchor="middle" font-size="14.3">Aug 30</text>
<text transform="translate(216.55 353.36) scale(1 1.04)" text-anchor="end" font-size="14.3">2011</text>
<text transform="translate(14.76 266.10) rotate(-90) scale(1 1.04)" font-size="16">D1</text>
<text transform="translate(4.00 198.50) scale(1 1.04)" font-size="17.2">B</text>
<line x1="353.27" y1="198.89" x2="353.27" y2="311.96" stroke="#e4e4e4" stroke-width="1.2"/>
<line x1="397.00" y1="198.89" x2="397.00" y2="311.96" stroke="#e4e4e4" stroke-width="1.2"/>
<line x1="440.73" y1="198.89" x2="440.73" y2="311.96" stroke="#e4e4e4" stroke-width="1.2"/>
<line x1="309.54" y1="227.16" x2="484.46" y2="227.16" stroke="#e4e4e4" stroke-width="1.2"/>
<line x1="309.54" y1="255.42" x2="484.46" y2="255.42" stroke="#e4e4e4" stroke-width="1.2"/>
<line x1="309.54" y1="283.69" x2="484.46" y2="283.69" stroke="#e4e4e4" stroke-width="1.2"/>
<line x1="309.54" y1="311.96" x2="309.54" y2="310.16" stroke="#262626" stroke-width="1"/>
<line x1="309.54" y1="198.89" x2="309.54" y2="200.69" stroke="#262626" stroke-width="1"/>
<line x1="353.27" y1="311.96" x2="353.27" y2="310.16" stroke="#262626" stroke-width="1"/>
<line x1="353.27" y1="198.89" x2="353.27" y2="200.69" stroke="#262626" stroke-width="1"/>
<line x1="397.00" y1="311.96" x2="397.00" y2="310.16" stroke="#262626" stroke-width="1"/>
<line x1="397.00" y1="198.89" x2="397.00" y2="200.69" stroke="#262626" stroke-width="1"/>
<line x1="440.73" y1="311.96" x2="440.73" y2="310.16" stroke="#262626" stroke-width="1"/>
<line x1="440.73" y1="198.89" x2="440.73" y2="200.69" stroke="#262626" stroke-width="1"/>
<line x1="484.46" y1="311.96" x2="484.46" y2="310.16" stroke="#262626" stroke-width="1"/>
<line x1="484.46" y1="198.89" x2="484.46" y2="200.69" stroke="#262626" stroke-width="1"/>
<line x1="309.54" y1="198.89" x2="311.34" y2="198.89" stroke="#262626" stroke-width="1"/>
<line x1="484.46" y1="198.89" x2="482.66" y2="198.89" stroke="#262626" stroke-width="1"/>
<line x1="309.54" y1="227.16" x2="311.34" y2="227.16" stroke="#262626" stroke-width="1"/>
<line x1="484.46" y1="227.16" x2="482.66" y2="227.16" stroke="#262626" stroke-width="1"/>
<line x1="309.54" y1="255.42" x2="311.34" y2="255.42" stroke="#262626" stroke-width="1"/>
<line x1="484.46" y1="255.42" x2="482.66" y2="255.42" stroke="#262626" stroke-width="1"/>
<line x1="309.54" y1="283.69" x2="311.34" y2="283.69" stroke="#262626" stroke-width="1"/>
<line x1="484.46" y1="283.69" x2="482.66" y2="283.69" stroke="#262626" stroke-width="1"/>
<line x1="309.54" y1="311.96" x2="311.34" y2="311.96" stroke="#262626" stroke-width="1"/>
<line x1="484.46" y1="311.96" x2="482.66" y2="311.96" stroke="#262626" stroke-width="1"/>
<g clip-path="url(#cp11)" fill="none" stroke-width="2.00" stroke-linejoin="round" stroke-linecap="round">
<path d="M309.72 248.59L311.65 247.17L313.57 246.45L315.39 246.73L317.20 247.51L319.02 248.71L320.83 250.22L322.64 251.96L324.46 253.84L326.27 255.77L328.09 257.65L329.90 259.39L331.71 260.91L333.53 262.10L335.34 262.89L337.15 263.17L339.08 262.86L341.01 262.01L342.94 260.72L344.87 259.11L346.80 257.28L348.73 255.34L350.66 253.41L352.59 251.58L354.52 249.96L356.45 248.68L358.38 247.83L360.31 247.52L362.22 247.81L364.13 248.63L366.04 249.86L367.95 251.41L369.86 253.16L371.77 255.02L373.69 256.88L375.60 258.63L377.51 260.18L379.42 261.41L381.33 262.23L383.24 262.52L385.12 262.27L386.99 261.57L388.87 260.51L390.74 259.19L392.62 257.69L394.50 256.09L396.37 254.50L398.25 253.00L400.12 251.67L402.00 250.62L403.87 249.92L405.75 249.66L407.63 249.89L409.50 250.50L411.38 251.44L413.25 252.61L415.13 253.94L417.00 255.34L418.88 256.75L420.76 258.08L422.63 259.25L424.51 260.18L426.38 260.80L428.26 261.02L430.07 260.87L431.89 260.44L433.70 259.78L435.51 258.94L437.33 257.98L439.14 256.95L440.96 255.88L442.77 254.85L444.58 253.89L446.40 253.05L448.21 252.39L450.02 251.96L451.84 251.81L453.71 251.95L455.59 252.33L457.47 252.91L459.34 253.64L461.22 254.47L463.09 255.34L464.97 256.22L466.84 257.05L468.72 257.77L470.59 258.36L472.47 258.74L474.35 258.88L476.06 258.78L477.78 258.50L479.49 258.07L481.21 257.51L482.92 256.84L484.64 256.09" stroke="#0000ff"/>
<path d="M309.72 258.24L311.58 256.50L313.44 255.01L315.31 253.75L317.17 252.71L319.03 251.86L320.90 251.19L322.76 250.66L324.62 250.28L326.49 250.00L328.35 249.82L330.21 249.72L332.08 249.67L333.94 249.66L335.83 250.08L337.72 251.21L339.61 252.91L341.50 255.01L343.39 257.35L345.28 259.77L347.17 262.11L349.06 264.21L350.95 265.90L352.84 267.04L354.73 267.45L356.66 266.81L358.59 265.05L360.52 262.45L362.45 259.31L364.38 255.88L366.31 252.45L368.24 249.30L370.17 246.71L372.10 244.95L374.02 244.30L375.93 244.73L377.84 245.89L379.75 247.63L381.66 249.78L383.57 252.17L385.48 254.65L387.39 257.05L389.30 259.20L391.21 260.94L393.12 262.10L395.03 262.52L396.91 262.40L398.78 262.04L400.66 261.48L402.53 260.75L404.41 259.89L406.29 258.93L408.16 257.90L410.04 256.84L411.91 255.78L413.79 254.76L415.66 253.80L417.54 252.94L419.42 252.21L421.29 251.65L423.17 251.29L425.04 251.16L426.92 251.25L428.79 251.49L430.67 251.88L432.55 252.37L434.42 252.95L436.30 253.60L438.17 254.30L440.05 255.02L441.92 255.74L443.80 256.44L445.68 257.09L447.55 257.67L449.43 258.17L451.30 258.55L453.18 258.79L455.05 258.88L456.98 258.72L458.91 258.30L460.84 257.68L462.77 256.92L464.70 256.09L466.63 255.27L468.56 254.51L470.49 253.89L472.42 253.46L474.35 253.31L476.06 253.31L477.78 253.33L479.49 253.39L481.21 253.50L482.92 253.68L484.64 253.95" stroke="#000000"/>
<path d="M309.72 252.88L311.75 249.95L313.79 247.57L315.83 245.96L317.86 245.38L319.63 245.73L321.40 246.67L323.17 248.06L324.94 249.71L326.70 251.48L328.47 253.21L330.24 254.73L332.01 255.88L333.90 256.80L335.78 257.61L337.67 258.36L339.56 259.06L341.44 259.74L343.23 260.44L345.01 261.20L346.80 261.93L348.59 262.56L350.37 263.00L352.16 263.17L353.98 262.65L355.80 261.25L357.63 259.19L359.45 256.68L361.27 253.95L363.09 251.22L364.91 248.71L366.74 246.65L368.56 245.25L370.38 244.73L372.23 245.16L374.08 246.34L375.93 248.10L377.79 250.27L379.64 252.70L381.49 255.20L383.34 257.63L385.19 259.80L387.04 261.56L388.89 262.74L390.74 263.17L392.56 262.98L394.37 262.44L396.19 261.63L398.00 260.60L399.81 259.42L401.63 258.14L403.44 256.83L405.26 255.56L407.07 254.37L408.88 253.34L410.70 252.53L412.51 252.00L414.32 251.81L416.25 251.96L418.18 252.36L420.11 252.96L422.04 253.69L423.97 254.49L425.90 255.28L427.83 256.01L429.76 256.61L431.69 257.02L433.62 257.17L435.45 257.13L437.29 257.05L439.13 256.91L440.97 256.74L442.80 256.54L444.64 256.32L446.48 256.09L448.32 255.87L450.15 255.65L451.99 255.45L453.83 255.27L455.67 255.14L457.50 255.05L459.34 255.02L461.22 255.11L463.09 255.36L464.97 255.70L466.84 256.09L468.72 256.49L470.59 256.83L472.47 257.07L474.35 257.17L476.06 257.11L477.78 256.94L479.49 256.68L481.21 256.34L482.92 255.93L484.64 255.45" stroke="#ff0000"/>
</g>
<rect x="309.54" y="198.89" width="174.92" height="113.07" fill="none" stroke="#333333" stroke-width="1.15" stroke-linejoin="round"/>
<text transform="translate(302.84 204.45) scale(1 1.04)" text-anchor="end" font-size="14.3">1</text>
<text transform="translate(302.84 233.04) scale(1 1.04)" text-anchor="end" font-size="14.3">0.5</text>
<text transform="translate(302.84 261.63) scale(1 1.04)" text-anchor="end" font-size="14.3">0</text>
<text transform="translate(302.84 290.23) scale(1 1.04)" text-anchor="end" font-size="14.3">-0.5</text>
<text transform="translate(302.84 318.82) scale(1 1.04)" text-anchor="end" font-size="14.3">-1</text>
<text transform="translate(309.24 333.36) scale(1 1.04)" text-anchor="middle" font-size="14.3">Sep 07</text>
<text transform="translate(396.70 333.36) scale(1 1.04)" text-anchor="middle" font-size="14.3">Sep 09</text>
<text transform="translate(484.16 333.36) scale(1 1.04)" text-anchor="middle" font-size="14.3">Sep 11</text>
<text transform="translate(471.46 353.36) scale(1 1.04)" text-anchor="end" font-size="14.3">2011</text>
<text transform="translate(270.64 266.10) rotate(-90) scale(1 1.04)" font-size="16">D1</text>
<text transform="translate(260.00 198.50) scale(1 1.04)" font-size="17.2">E</text>
<line x1="608.37" y1="198.89" x2="608.37" y2="311.96" stroke="#e4e4e4" stroke-width="1.2"/>
<line x1="652.33" y1="198.89" x2="652.33" y2="311.96" stroke="#e4e4e4" stroke-width="1.2"/>
<line x1="696.29" y1="198.89" x2="696.29" y2="311.96" stroke="#e4e4e4" stroke-width="1.2"/>
<line x1="564.40" y1="227.16" x2="740.26" y2="227.16" stroke="#e4e4e4" stroke-width="1.2"/>
<line x1="564.40" y1="255.42" x2="740.26" y2="255.42" stroke="#e4e4e4" stroke-width="1.2"/>
<line x1="564.40" y1="283.69" x2="740.26" y2="283.69" stroke="#e4e4e4" stroke-width="1.2"/>
<line x1="564.40" y1="311.96" x2="564.40" y2="310.16" stroke="#262626" stroke-width="1"/>
<line x1="564.40" y1="198.89" x2="564.40" y2="200.69" stroke="#262626" stroke-width="1"/>
<line x1="608.37" y1="311.96" x2="608.37" y2="310.16" stroke="#262626" stroke-width="1"/>
<line x1="608.37" y1="198.89" x2="608.37" y2="200.69" stroke="#262626" stroke-width="1"/>
<line x1="652.33" y1="311.96" x2="652.33" y2="310.16" stroke="#262626" stroke-width="1"/>
<line x1="652.33" y1="198.89" x2="652.33" y2="200.69" stroke="#262626" stroke-width="1"/>
<line x1="696.29" y1="311.96" x2="696.29" y2="310.16" stroke="#262626" stroke-width="1"/>
<line x1="696.29" y1="198.89" x2="696.29" y2="200.69" stroke="#262626" stroke-width="1"/>
<line x1="740.26" y1="311.96" x2="740.26" y2="310.16" stroke="#262626" stroke-width="1"/>
<line x1="740.26" y1="198.89" x2="740.26" y2="200.69" stroke="#262626" stroke-width="1"/>
<line x1="564.40" y1="198.89" x2="566.20" y2="198.89" stroke="#262626" stroke-width="1"/>
<line x1="740.26" y1="198.89" x2="738.46" y2="198.89" stroke="#262626" stroke-width="1"/>
<line x1="564.40" y1="227.16" x2="566.20" y2="227.16" stroke="#262626" stroke-width="1"/>
<line x1="740.26" y1="227.16" x2="738.46" y2="227.16" stroke="#262626" stroke-width="1"/>
<line x1="564.40" y1="255.42" x2="566.20" y2="255.42" stroke="#262626" stroke-width="1"/>
<line x1="740.26" y1="255.42" x2="738.46" y2="255.42" stroke="#262626" stroke-width="1"/>
<line x1="564.40" y1="283.69" x2="566.20" y2="283.69" stroke="#262626" stroke-width="1"/>
<line x1="740.26" y1="283.69" x2="738.46" y2="283.69" stroke="#262626" stroke-width="1"/>
<line x1="564.40" y1="311.96" x2="566.20" y2="311.96" stroke="#262626" stroke-width="1"/>
<line x1="740.26" y1="311.96" x2="738.46" y2="311.96" stroke="#262626" stroke-width="1"/>
<g clip-path="url(#cp12)" fill="none" stroke-width="2.00" stroke-linejoin="round" stroke-linecap="round">
<path d="M564.72 256.09L566.56 257.77L568.40 259.24L570.25 260.41L572.09 261.18L573.93 261.45L575.78 261.16L577.64 260.37L579.49 259.18L581.34 257.72L583.19 256.08L585.04 254.39L586.89 252.76L588.74 251.29L590.60 250.10L592.45 249.31L594.30 249.02L596.19 249.26L598.09 249.92L599.99 250.93L601.88 252.21L603.78 253.69L605.68 255.28L607.57 256.91L609.47 258.50L611.36 259.97L613.26 261.25L615.16 262.27L617.05 262.93L618.95 263.17L620.74 262.87L622.52 262.06L624.31 260.82L626.10 259.28L627.88 257.52L629.67 255.66L631.45 253.81L633.24 252.05L635.03 250.51L636.81 249.27L638.60 248.46L640.39 248.16L642.20 248.42L644.01 249.15L645.83 250.25L647.64 251.65L649.46 253.26L651.27 254.99L653.08 256.77L654.90 258.50L656.71 260.11L658.52 261.51L660.34 262.61L662.15 263.34L663.97 263.60L665.84 263.28L667.72 262.41L669.59 261.08L671.47 259.43L673.34 257.55L675.22 255.56L677.10 253.57L678.97 251.69L680.85 250.03L682.72 248.71L684.60 247.84L686.47 247.52L688.29 247.80L690.10 248.57L691.92 249.75L693.73 251.25L695.54 252.97L697.36 254.82L699.17 256.72L700.98 258.58L702.80 260.30L704.61 261.79L706.43 262.97L708.24 263.75L710.05 264.02L711.84 263.69L713.63 262.75L715.41 261.35L717.20 259.58L718.99 257.57L720.77 255.45L722.56 253.33L724.34 251.32L726.13 249.56L727.92 248.15L729.70 247.21L731.49 246.88L733.20 247.08L734.92 247.67L736.63 248.58L738.35 249.76L740.06 251.16" stroke="#0000ff"/>
<path d="M564.72 252.45L566.54 252.46L568.36 252.48L570.18 252.52L572.00 252.57L573.83 252.63L575.65 252.71L577.47 252.79L579.29 252.88L581.11 253.11L582.92 253.58L584.73 254.26L586.55 255.09L588.36 256.02L590.18 257.02L591.99 258.04L593.80 259.02L595.62 259.93L597.43 260.71L599.24 261.33L601.06 261.74L602.87 261.88L604.77 261.59L606.67 260.76L608.56 259.50L610.46 257.91L612.35 256.08L614.25 254.10L616.15 252.08L618.04 250.10L619.94 248.27L621.84 246.68L623.73 245.42L625.63 244.60L627.52 244.30L629.34 244.81L631.15 246.22L632.97 248.36L634.78 251.08L636.59 254.21L638.41 257.58L640.22 261.04L642.03 264.41L643.85 267.54L645.66 270.26L647.48 272.40L649.29 273.81L651.10 274.31L652.92 273.37L654.73 270.76L656.54 266.88L658.35 262.07L660.17 256.72L661.98 251.18L663.79 245.83L665.60 241.02L667.41 237.13L669.23 234.53L671.04 233.59L672.83 234.43L674.63 236.76L676.42 240.24L678.21 244.54L680.00 249.33L681.80 254.28L683.59 259.08L685.38 263.37L687.18 266.85L688.97 269.18L690.76 270.03L692.57 269.67L694.39 268.66L696.20 267.13L698.02 265.19L699.83 262.95L701.64 260.54L703.46 258.07L705.27 255.66L707.09 253.43L708.90 251.49L710.71 249.96L712.53 248.95L714.34 248.59L716.18 248.60L718.02 248.65L719.85 248.76L721.69 248.94L723.53 249.20L725.37 249.57L727.20 250.05L729.04 250.68L730.88 251.46L732.71 252.41L734.55 253.54L736.39 254.88L738.23 256.44L740.06 258.24" stroke="#000000"/>
<path d="M564.72 254.59L566.75 256.43L568.79 257.93L570.83 258.94L572.86 259.31L574.74 258.99L576.61 258.14L578.49 256.93L580.36 255.56L582.24 254.18L584.12 252.98L585.99 252.13L587.87 251.81L589.68 251.95L591.49 252.35L593.31 252.97L595.12 253.74L596.94 254.64L598.75 255.60L600.56 256.59L602.38 257.55L604.19 258.44L606.01 259.22L607.82 259.83L609.63 260.24L611.45 260.38L613.30 259.98L615.15 258.89L617.00 257.25L618.85 255.23L620.70 252.97L622.55 250.64L624.41 248.39L626.26 246.36L628.11 244.73L629.96 243.63L631.81 243.23L633.66 243.93L635.51 245.85L637.37 248.71L639.22 252.25L641.07 256.20L642.92 260.28L644.77 264.22L646.62 267.76L648.47 270.63L650.32 272.54L652.18 273.24L654.03 272.41L655.88 270.12L657.73 266.71L659.58 262.48L661.43 257.78L663.28 252.91L665.13 248.20L666.99 243.98L668.84 240.56L670.69 238.28L672.54 237.44L674.39 238.08L676.24 239.82L678.09 242.41L679.95 245.63L681.80 249.20L683.65 252.91L685.50 256.49L687.35 259.70L689.20 262.30L691.05 264.03L692.90 264.67L694.73 264.53L696.55 264.15L698.37 263.53L700.19 262.73L702.02 261.75L703.84 260.64L705.66 259.41L707.48 258.10L709.30 256.74L711.13 255.34L712.95 253.95L714.77 252.58L716.59 251.27L718.41 250.05L720.24 248.93L722.06 247.96L723.88 247.15L725.70 246.54L727.52 246.15L729.35 246.02L731.13 246.35L732.92 247.26L734.71 248.61L736.49 250.27L738.28 252.09L740.06 253.95" stroke="#ff0000"/>
</g>
<rect x="564.40" y="198.89" width="175.86" height="113.07" fill="none" stroke="#333333" stroke-width="1.15" stroke-linejoin="round"/>
<text transform="translate(557.70 204.45) scale(1 1.04)" text-anchor="end" font-size="14.3">1</text>
<text transform="translate(557.70 233.04) scale(1 1.04)" text-anchor="end" font-size="14.3">0.5</text>
<text transform="translate(557.70 261.63) scale(1 1.04)" text-anchor="end" font-size="14.3">0</text>
<text transform="translate(557.70 290.23) scale(1 1.04)" text-anchor="end" font-size="14.3">-0.5</text>
<text transform="translate(557.70 318.82) scale(1 1.04)" text-anchor="end" font-size="14.3">-1</text>
<text transform="translate(564.10 333.36) scale(1 1.04)" text-anchor="middle" font-size="14.3">Oct 28</text>
<text transform="translate(652.03 333.36) scale(1 1.04)" text-anchor="middle" font-size="14.3">Oct 30</text>
<text transform="translate(739.96 333.36) scale(1 1.04)" text-anchor="middle" font-size="14.3">Nov 01</text>
<text transform="translate(728.96 353.36) scale(1 1.04)" text-anchor="end" font-size="14.3">2012</text>
<text transform="translate(525.50 266.10) rotate(-90) scale(1 1.04)" font-size="16">D1</text>
<text transform="translate(513.50 198.50) scale(1 1.04)" font-size="17.2">H</text>
<line x1="864.01" y1="198.89" x2="864.01" y2="311.96" stroke="#e4e4e4" stroke-width="1.2"/>
<line x1="907.75" y1="198.89" x2="907.75" y2="311.96" stroke="#e4e4e4" stroke-width="1.2"/>
<line x1="951.49" y1="198.89" x2="951.49" y2="311.96" stroke="#e4e4e4" stroke-width="1.2"/>
<line x1="820.27" y1="227.16" x2="995.23" y2="227.16" stroke="#e4e4e4" stroke-width="1.2"/>
<line x1="820.27" y1="255.42" x2="995.23" y2="255.42" stroke="#e4e4e4" stroke-width="1.2"/>
<line x1="820.27" y1="283.69" x2="995.23" y2="283.69" stroke="#e4e4e4" stroke-width="1.2"/>
<line x1="820.27" y1="311.96" x2="820.27" y2="310.16" stroke="#262626" stroke-width="1"/>
<line x1="820.27" y1="198.89" x2="820.27" y2="200.69" stroke="#262626" stroke-width="1"/>
<line x1="864.01" y1="311.96" x2="864.01" y2="310.16" stroke="#262626" stroke-width="1"/>
<line x1="864.01" y1="198.89" x2="864.01" y2="200.69" stroke="#262626" stroke-width="1"/>
<line x1="907.75" y1="311.96" x2="907.75" y2="310.16" stroke="#262626" stroke-width="1"/>
<line x1="907.75" y1="198.89" x2="907.75" y2="200.69" stroke="#262626" stroke-width="1"/>
<line x1="951.49" y1="311.96" x2="951.49" y2="310.16" stroke="#262626" stroke-width="1"/>
<line x1="951.49" y1="198.89" x2="951.49" y2="200.69" stroke="#262626" stroke-width="1"/>
<line x1="995.23" y1="311.96" x2="995.23" y2="310.16" stroke="#262626" stroke-width="1"/>
<line x1="995.23" y1="198.89" x2="995.23" y2="200.69" stroke="#262626" stroke-width="1"/>
<line x1="820.27" y1="198.89" x2="822.07" y2="198.89" stroke="#262626" stroke-width="1"/>
<line x1="995.23" y1="198.89" x2="993.43" y2="198.89" stroke="#262626" stroke-width="1"/>
<line x1="820.27" y1="227.16" x2="822.07" y2="227.16" stroke="#262626" stroke-width="1"/>
<line x1="995.23" y1="227.16" x2="993.43" y2="227.16" stroke="#262626" stroke-width="1"/>
<line x1="820.27" y1="255.42" x2="822.07" y2="255.42" stroke="#262626" stroke-width="1"/>
<line x1="995.23" y1="255.42" x2="993.43" y2="255.42" stroke="#262626" stroke-width="1"/>
<line x1="820.27" y1="283.69" x2="822.07" y2="283.69" stroke="#262626" stroke-width="1"/>
<line x1="995.23" y1="283.69" x2="993.43" y2="283.69" stroke="#262626" stroke-width="1"/>
<line x1="820.27" y1="311.96" x2="822.07" y2="311.96" stroke="#262626" stroke-width="1"/>
<line x1="995.23" y1="311.96" x2="993.43" y2="311.96" stroke="#262626" stroke-width="1"/>
<g clip-path="url(#cp13)" fill="none" stroke-width="2.00" stroke-linejoin="round" stroke-linecap="round">
<path d="M819.72 247.52L821.53 250.26L823.34 252.76L825.15 255.00L826.97 256.99L828.78 258.73L830.59 260.20L832.40 261.42L834.21 262.37L836.03 263.05L837.84 263.46L839.65 263.60L841.44 263.26L843.22 262.33L845.01 260.92L846.80 259.15L848.58 257.15L850.37 255.02L852.16 252.90L853.94 250.89L855.73 249.13L857.52 247.72L859.30 246.78L861.09 246.45L862.90 246.76L864.72 247.65L866.53 249.00L868.34 250.71L870.16 252.67L871.97 254.79L873.78 256.97L875.60 259.09L877.41 261.05L879.23 262.76L881.04 264.11L882.85 264.99L884.67 265.31L886.51 264.93L888.35 263.87L890.19 262.26L892.03 260.25L893.87 257.97L895.71 255.56L897.55 253.14L899.39 250.86L901.23 248.85L903.07 247.25L904.91 246.19L906.75 245.80L908.56 246.14L910.37 247.07L912.19 248.50L914.00 250.30L915.82 252.38L917.63 254.62L919.44 256.92L921.26 259.16L923.07 261.24L924.89 263.04L926.70 264.47L928.51 265.40L930.33 265.74L932.15 265.34L933.97 264.23L935.79 262.56L937.62 260.46L939.44 258.08L941.26 255.56L943.08 253.04L944.90 250.65L946.73 248.56L948.55 246.88L950.37 245.78L952.19 245.38L954.01 245.72L955.82 246.67L957.63 248.13L959.45 249.97L961.26 252.10L963.07 254.38L964.89 256.73L966.70 259.02L968.52 261.14L970.33 262.99L972.14 264.44L973.96 265.40L975.77 265.74L977.70 265.51L979.63 264.84L981.56 263.75L983.49 262.26L985.42 260.39L987.35 258.16L989.28 255.58L991.21 252.69L993.14 249.49L995.06 246.02" stroke="#0000ff"/>
<path d="M819.72 255.45L821.61 255.77L823.51 256.06L825.40 256.31L827.30 256.54L829.19 256.74L831.09 256.91L832.98 257.05L834.88 257.18L836.77 257.28L838.67 257.37L840.57 257.43L842.46 257.49L844.36 257.53L846.25 257.55L848.15 257.57L850.04 257.59L851.94 257.59L853.83 257.59L855.73 257.59L857.54 257.46L859.36 257.09L861.17 256.52L862.98 255.80L864.80 254.98L866.61 254.08L868.43 253.17L870.24 252.28L872.05 251.45L873.87 250.73L875.68 250.17L877.49 249.80L879.31 249.66L881.12 249.93L882.94 250.66L884.75 251.78L886.56 253.20L888.38 254.83L890.19 256.59L892.01 258.39L893.82 260.15L895.63 261.78L897.45 263.20L899.26 264.31L901.07 265.05L902.89 265.31L904.67 264.90L906.46 263.75L908.25 262.03L910.03 259.86L911.82 257.41L913.61 254.81L915.39 252.21L917.18 249.75L918.97 247.59L920.75 245.86L922.54 244.72L924.32 244.30L926.11 244.67L927.90 245.67L929.68 247.18L931.47 249.08L933.26 251.24L935.04 253.52L936.83 255.80L938.62 257.96L940.40 259.86L942.19 261.37L943.97 262.38L945.76 262.74L947.64 262.60L949.51 262.22L951.39 261.63L953.26 260.86L955.14 259.95L957.02 258.94L958.89 257.86L960.77 256.74L962.64 255.62L964.52 254.53L966.39 253.52L968.27 252.61L970.14 251.84L972.02 251.25L973.90 250.87L975.77 250.73L977.70 250.81L979.63 251.05L981.56 251.42L983.49 251.94L985.42 252.59L987.35 253.37L989.28 254.27L991.21 255.27L993.14 256.38L995.06 257.59" stroke="#000000"/>
<path d="M819.72 248.16L821.59 250.82L823.46 253.29L825.33 255.54L827.20 257.58L829.07 259.39L830.94 260.95L832.81 262.26L834.68 263.29L836.55 264.05L838.42 264.51L840.29 264.67L842.09 264.42L843.88 263.72L845.67 262.64L847.46 261.27L849.25 259.67L851.04 257.92L852.83 256.09L854.63 254.27L856.42 252.52L858.21 250.92L860.00 249.54L861.79 248.47L863.58 247.77L865.38 247.52L867.19 247.77L869.00 248.47L870.82 249.55L872.63 250.91L874.44 252.47L876.26 254.16L878.07 255.89L879.89 257.57L881.70 259.14L883.51 260.50L885.33 261.57L887.14 262.27L888.95 262.52L890.79 262.31L892.63 261.69L894.47 260.75L896.30 259.55L898.14 258.15L899.98 256.62L901.82 255.02L903.65 253.42L905.49 251.89L907.33 250.49L909.17 249.29L911.00 248.35L912.84 247.74L914.68 247.52L916.55 247.83L918.43 248.68L920.31 249.96L922.18 251.58L924.06 253.41L925.93 255.34L927.81 257.28L929.68 259.11L931.56 260.72L933.44 262.01L935.31 262.86L937.19 263.17L939.04 262.85L940.89 261.99L942.74 260.70L944.59 259.11L946.44 257.33L948.29 255.50L950.15 253.72L952.00 252.13L953.85 250.84L955.70 249.98L957.55 249.66L959.48 249.96L961.41 250.78L963.34 251.98L965.27 253.44L967.20 255.02L969.13 256.61L971.06 258.07L972.98 259.27L974.91 260.08L976.84 260.38L978.67 260.25L980.49 259.85L982.31 259.19L984.13 258.29L985.95 257.15L987.78 255.78L989.60 254.19L991.42 252.39L993.24 250.37L995.06 248.16" stroke="#ff0000"/>
</g>
<rect x="820.27" y="198.89" width="174.96" height="113.07" fill="none" stroke="#333333" stroke-width="1.15" stroke-linejoin="round"/>
<text transform="translate(813.57 204.45) scale(1 1.04)" text-anchor="end" font-size="14.3">1</text>
<text transform="translate(813.57 233.04) scale(1 1.04)" text-anchor="end" font-size="14.3">0.5</text>
<text transform="translate(813.57 261.63) scale(1 1.04)" text-anchor="end" font-size="14.3">0</text>
<text transform="translate(813.57 290.23) scale(1 1.04)" text-anchor="end" font-size="14.3">-0.5</text>
<text transform="translate(813.57 318.82) scale(1 1.04)" text-anchor="end" font-size="14.3">-1</text>
<text transform="translate(863.71 333.36) scale(1 1.04)" text-anchor="middle" font-size="14.3">Sep 18</text>
<text transform="translate(951.19 333.36) scale(1 1.04)" text-anchor="middle" font-size="14.3">Sep 20</text>
<text transform="translate(983.93 353.36) scale(1 1.04)" text-anchor="end" font-size="14.3">2003</text>
<text transform="translate(781.37 266.10) rotate(-90) scale(1 1.04)" font-size="16">D1</text>
<text transform="translate(766.90 198.50) scale(1 1.04)" font-size="17.2">K</text>
<line x1="97.00" y1="375.87" x2="97.00" y2="488.38" stroke="#e4e4e4" stroke-width="1.2"/>
<line x1="141.60" y1="375.87" x2="141.60" y2="488.38" stroke="#e4e4e4" stroke-width="1.2"/>
<line x1="185.80" y1="375.87" x2="185.80" y2="488.38" stroke="#e4e4e4" stroke-width="1.2"/>
<line x1="53.66" y1="432.12" x2="229.55" y2="432.12" stroke="#e4e4e4" stroke-width="1.2"/>
<line x1="53.66" y1="488.38" x2="53.66" y2="486.58" stroke="#262626" stroke-width="1"/>
<line x1="53.66" y1="375.87" x2="53.66" y2="377.67" stroke="#262626" stroke-width="1"/>
<line x1="97.00" y1="488.38" x2="97.00" y2="486.58" stroke="#262626" stroke-width="1"/>
<line x1="97.00" y1="375.87" x2="97.00" y2="377.67" stroke="#262626" stroke-width="1"/>
<line x1="141.60" y1="488.38" x2="141.60" y2="486.58" stroke="#262626" stroke-width="1"/>
<line x1="141.60" y1="375.87" x2="141.60" y2="377.67" stroke="#262626" stroke-width="1"/>
<line x1="185.80" y1="488.38" x2="185.80" y2="486.58" stroke="#262626" stroke-width="1"/>
<line x1="185.80" y1="375.87" x2="185.80" y2="377.67" stroke="#262626" stroke-width="1"/>
<line x1="229.55" y1="488.38" x2="229.55" y2="486.58" stroke="#262626" stroke-width="1"/>
<line x1="229.55" y1="375.87" x2="229.55" y2="377.67" stroke="#262626" stroke-width="1"/>
<line x1="53.66" y1="375.87" x2="55.46" y2="375.87" stroke="#262626" stroke-width="1"/>
<line x1="229.55" y1="375.87" x2="227.75" y2="375.87" stroke="#262626" stroke-width="1"/>
<line x1="53.66" y1="432.12" x2="55.46" y2="432.12" stroke="#262626" stroke-width="1"/>
<line x1="229.55" y1="432.12" x2="227.75" y2="432.12" stroke="#262626" stroke-width="1"/>
<line x1="53.66" y1="488.38" x2="55.46" y2="488.38" stroke="#262626" stroke-width="1"/>
<line x1="229.55" y1="488.38" x2="227.75" y2="488.38" stroke="#262626" stroke-width="1"/>
<g clip-path="url(#cp20)" fill="none" stroke-width="2.00" stroke-linejoin="round" stroke-linecap="round">
<path d="M53.69 442.96L54.74 445.07L56.68 437.69L58.61 423.98L60.54 416.60L62.48 424.53L64.41 439.25L66.34 447.18L68.10 438.98L69.86 423.75L71.62 415.54L73.55 424.29L75.48 440.54L77.41 449.29L79.35 440.26L81.28 423.51L83.21 414.49L84.97 423.78L86.73 441.05L88.49 450.34L90.59 441.05L92.70 423.78L94.81 414.49L96.68 424.06L98.54 441.83L100.40 451.39L102.40 441.01L104.41 421.71L106.41 411.33L108.34 421.71L110.28 441.01L112.21 451.39L114.14 441.28L116.08 422.50L118.01 412.38L119.94 422.50L121.88 441.28L123.81 451.39L125.92 441.28L128.03 422.50L130.13 412.38L132.07 422.50L134.00 441.28L135.93 451.39L137.82 440.87L139.70 421.32L141.58 410.80L143.34 422.01L145.10 442.82L146.85 454.03L148.79 442.47L150.72 420.99L152.65 409.43L154.48 420.99L156.31 442.47L158.14 454.03L160.10 442.47L162.07 420.99L164.04 409.43L165.87 420.91L167.70 442.23L169.52 453.71L171.46 442.59L173.39 421.93L175.32 410.80L177.33 421.73L179.33 442.04L181.33 452.98L183.02 441.90L184.71 421.34L186.39 410.27L188.50 421.75L190.61 443.08L192.72 454.56L194.65 442.53L196.59 420.19L198.52 408.16L200.45 420.46L202.39 443.31L204.32 455.61L206.08 443.17L207.83 420.07L209.59 407.64L211.52 420.21L213.46 443.56L215.39 456.14L217.25 443.70L219.12 420.60L220.98 408.16L222.98 420.19L224.99 442.53L226.99 454.56L229.62 431.36" stroke="#0000ff"/>
<path d="M53.69 434.52L54.74 435.58L56.85 433.80L58.96 430.50L61.07 428.72L62.83 430.50L64.59 433.80L66.34 435.58L68.28 433.80L70.21 430.50L72.14 428.72L73.90 430.64L75.66 434.19L77.41 436.11L79.35 433.51L81.28 428.69L83.21 426.09L84.97 429.37L86.73 435.46L88.49 438.74L90.42 435.05L92.35 428.20L94.29 424.51L96.04 428.20L97.80 435.05L99.56 438.74L101.14 435.46L102.72 429.37L104.30 426.09L106.15 430.31L107.99 434.52L109.75 432.88L111.51 429.84L113.26 428.20L115.37 432.94L117.48 437.69L119.24 434.00L121.00 427.14L122.75 423.45L124.69 428.78L126.62 438.68L128.55 444.01L130.49 437.32L132.42 424.88L134.35 418.18L136.29 425.70L138.22 439.66L140.15 447.18L141.86 439.39L143.57 424.92L145.27 417.13L147.21 424.78L149.14 438.99L151.07 446.65L153.00 439.13L154.94 425.17L156.87 417.65L158.80 425.31L160.74 439.52L162.67 447.18L164.78 438.98L166.89 423.75L169.00 415.54L170.75 424.02L172.51 439.76L174.27 448.23L176.20 439.76L178.13 424.02L180.07 415.54L182.00 423.75L183.93 438.98L185.87 447.18L187.80 439.52L189.73 425.31L191.67 417.65L193.42 424.76L195.18 437.96L196.94 445.07L199.05 438.78L201.16 427.10L203.26 420.82L205.02 426.28L206.78 436.44L208.54 441.90L210.47 437.26L212.40 428.63L214.34 423.98L216.27 428.08L218.20 435.69L220.13 439.80L222.07 436.52L224.00 430.42L225.93 427.14L227.78 429.68L229.62 436.11" stroke="#000000"/>
<path d="M53.69 447.18L54.74 454.03L56.68 442.55L58.61 421.23L60.54 409.74L62.48 421.23L64.41 442.55L66.34 454.03L68.10 442.63L69.86 421.46L71.62 410.06L73.55 421.46L75.48 442.63L77.41 454.03L79.35 442.55L81.28 421.23L83.21 409.74L84.97 421.31L86.73 442.78L88.49 454.35L90.59 442.92L92.70 421.70L94.81 410.27L96.68 421.43L98.54 442.14L100.40 453.29L102.40 442.90L104.41 423.61L106.41 413.22L108.34 422.71L110.28 440.33L112.21 449.81L114.14 441.61L116.08 426.38L118.01 418.18L120.12 425.15L122.23 438.10L124.34 445.07L126.44 438.51L128.55 426.32L130.66 419.76L132.60 426.19L134.53 438.12L136.46 444.54L138.34 438.12L140.23 426.19L142.11 419.76L144.22 426.19L146.33 438.12L148.44 444.54L150.37 437.98L152.30 425.80L154.23 419.23L156.17 425.88L158.10 438.21L160.03 444.86L161.97 438.08L163.90 425.49L165.83 418.71L167.77 425.54L169.70 438.23L171.63 445.07L173.46 438.37L175.29 425.93L177.12 419.23L178.98 425.80L180.84 437.98L182.70 444.54L184.64 437.98L186.57 425.80L188.50 419.23L190.44 425.93L192.37 438.37L194.30 445.07L196.06 437.96L197.82 424.76L199.57 417.65L201.44 425.31L203.30 439.52L205.16 447.18L207.06 438.84L208.96 423.35L210.86 415.02L212.72 424.31L214.58 441.57L216.44 450.87L218.38 440.48L220.31 421.19L222.24 410.80L224.18 422.14L226.11 443.21L228.04 454.56L229.62 436.63" stroke="#ff0000"/>
</g>
<rect x="53.66" y="375.87" width="175.89" height="112.51" fill="none" stroke="#333333" stroke-width="1.15" stroke-linejoin="round"/>
<text transform="translate(46.96 381.43) scale(1 1.04)" text-anchor="end" font-size="14.3">0.5</text>
<text transform="translate(46.96 438.33) scale(1 1.04)" text-anchor="end" font-size="14.3">0</text>
<text transform="translate(46.96 495.24) scale(1 1.04)" text-anchor="end" font-size="14.3">-0.5</text>
<text transform="translate(96.70 509.78) scale(1 1.04)" text-anchor="middle" font-size="14.3">Aug 28</text>
<text transform="translate(185.50 509.78) scale(1 1.04)" text-anchor="middle" font-size="14.3">Aug 30</text>
<text transform="translate(216.55 529.78) scale(1 1.04)" text-anchor="end" font-size="14.3">2011</text>
<text transform="translate(14.76 442.80) rotate(-90) scale(1 1.04)" font-size="16">D4</text>
<text transform="translate(4.00 375.10) scale(1 1.04)" font-size="17.2">C</text>
<line x1="353.27" y1="375.87" x2="353.27" y2="488.38" stroke="#e4e4e4" stroke-width="1.2"/>
<line x1="397.00" y1="375.87" x2="397.00" y2="488.38" stroke="#e4e4e4" stroke-width="1.2"/>
<line x1="440.73" y1="375.87" x2="440.73" y2="488.38" stroke="#e4e4e4" stroke-width="1.2"/>
<line x1="309.54" y1="432.12" x2="484.46" y2="432.12" stroke="#e4e4e4" stroke-width="1.2"/>
<line x1="309.54" y1="488.38" x2="309.54" y2="486.58" stroke="#262626" stroke-width="1"/>
<line x1="309.54" y1="375.87" x2="309.54" y2="377.67" stroke="#262626" stroke-width="1"/>
<line x1="353.27" y1="488.38" x2="353.27" y2="486.58" stroke="#262626" stroke-width="1"/>
<line x1="353.27" y1="375.87" x2="353.27" y2="377.67" stroke="#262626" stroke-width="1"/>
<line x1="397.00" y1="488.38" x2="397.00" y2="486.58" stroke="#262626" stroke-width="1"/>
<line x1="397.00" y1="375.87" x2="397.00" y2="377.67" stroke="#262626" stroke-width="1"/>
<line x1="440.73" y1="488.38" x2="440.73" y2="486.58" stroke="#262626" stroke-width="1"/>
<line x1="440.73" y1="375.87" x2="440.73" y2="377.67" stroke="#262626" stroke-width="1"/>
<line x1="484.46" y1="488.38" x2="484.46" y2="486.58" stroke="#262626" stroke-width="1"/>
<line x1="484.46" y1="375.87" x2="484.46" y2="377.67" stroke="#262626" stroke-width="1"/>
<line x1="309.54" y1="375.87" x2="311.34" y2="375.87" stroke="#262626" stroke-width="1"/>
<line x1="484.46" y1="375.87" x2="482.66" y2="375.87" stroke="#262626" stroke-width="1"/>
<line x1="309.54" y1="432.12" x2="311.34" y2="432.12" stroke="#262626" stroke-width="1"/>
<line x1="484.46" y1="432.12" x2="482.66" y2="432.12" stroke="#262626" stroke-width="1"/>
<line x1="309.54" y1="488.38" x2="311.34" y2="488.38" stroke="#262626" stroke-width="1"/>
<line x1="484.46" y1="488.38" x2="482.66" y2="488.38" stroke="#262626" stroke-width="1"/>
<g clip-path="url(#cp21)" fill="none" stroke-width="2.00" stroke-linejoin="round" stroke-linecap="round">
<path d="M309.22 412.91L310.27 412.38L311.99 418.23L313.70 431.10L315.41 443.96L317.13 449.81L319.13 440.16L321.13 422.24L323.14 412.59L325.10 422.65L327.07 441.33L329.04 451.39L330.94 441.14L332.84 422.10L334.73 411.85L336.60 422.10L338.46 441.14L340.32 451.39L342.08 441.28L343.84 422.50L345.59 412.38L347.53 422.36L349.46 440.89L351.39 450.87L353.33 441.44L355.26 423.92L357.19 414.49L359.13 423.65L361.06 440.65L362.99 449.81L364.93 440.24L366.86 422.48L368.79 412.91L370.72 422.89L372.66 441.42L374.59 451.39L376.52 441.28L378.46 422.50L380.39 412.38L382.32 422.36L384.26 440.89L386.19 450.87L387.95 441.03L389.70 422.75L391.46 412.91L393.52 422.34L395.58 439.85L397.64 449.29L399.57 440.13L401.50 423.12L403.44 413.96L405.37 423.39L407.30 440.91L409.23 450.34L411.17 440.50L413.10 422.22L415.03 412.38L416.79 422.77L418.55 442.06L420.31 452.45L422.24 441.92L424.17 422.38L426.11 411.85L428.04 422.24L429.97 441.53L431.90 451.92L433.84 441.67L435.77 422.63L437.70 412.38L439.64 422.36L441.57 440.89L443.50 450.87L445.44 441.16L447.37 423.14L449.30 413.44L451.24 423.00L453.17 440.77L455.10 450.34L457.03 440.36L458.97 421.83L460.90 411.85L462.83 422.51L464.77 442.31L466.70 452.98L468.53 442.04L470.35 421.73L472.18 410.80L474.05 421.87L475.91 442.43L477.77 453.50L479.70 442.43L481.64 421.87L483.57 410.80L484.62 417.65" stroke="#0000ff"/>
<path d="M309.22 433.47L311.33 430.46L313.44 429.06L315.54 428.72L317.48 430.91L319.41 434.97L321.34 437.16L323.28 434.02L325.21 428.18L327.14 425.03L329.08 429.00L331.01 436.36L332.94 440.32L334.87 435.68L336.81 427.04L338.74 422.40L340.67 427.45L342.61 436.85L344.54 441.90L346.47 436.57L348.41 426.67L350.34 421.34L352.45 427.22L354.56 438.14L356.67 444.01L358.42 437.59L360.18 425.66L361.94 419.23L363.98 425.93L366.02 438.37L368.05 445.07L370.06 437.96L372.06 424.76L374.06 417.65L376.00 425.31L377.93 439.52L379.86 447.18L381.80 438.98L383.73 423.75L385.66 415.54L387.60 424.02L389.53 439.76L391.46 448.23L393.17 439.62L394.87 423.63L396.58 415.02L398.51 423.63L400.45 439.62L402.38 448.23L404.31 439.89L406.25 424.41L408.18 416.07L410.11 424.14L412.05 439.11L413.98 447.18L416.02 439.11L418.06 424.14L420.09 416.07L421.99 424.27L423.89 439.50L425.79 447.70L427.65 439.37L429.51 423.88L431.38 415.54L433.31 423.61L435.24 438.58L437.18 446.65L439.11 438.99L441.04 424.78L442.98 417.13L444.84 424.64L446.70 438.60L448.56 446.12L450.39 438.88L452.22 425.42L454.05 418.18L455.80 424.88L457.56 437.32L459.32 444.01L461.25 437.86L463.19 426.44L465.12 420.29L466.88 426.30L468.63 437.47L470.39 443.49L472.32 438.16L474.26 428.26L476.19 422.92L478.12 427.57L480.06 436.20L481.99 440.85L483.57 437.27L485.15 428.72" stroke="#000000"/>
<path d="M308.69 427.67L311.12 413.96L313.22 422.71L315.33 438.96L317.44 447.70L319.45 439.37L321.45 423.88L323.45 415.54L325.39 423.88L327.32 439.37L329.25 447.70L331.18 439.78L333.12 425.05L335.05 417.13L337.16 424.51L339.27 438.21L341.38 445.59L343.31 438.49L345.24 425.29L347.18 418.18L349.11 425.01L351.04 437.71L352.98 444.54L354.91 438.39L356.84 426.97L358.77 420.82L360.71 426.15L362.64 436.05L364.57 441.38L366.51 436.87L368.44 428.49L370.37 423.98L372.31 428.08L374.24 435.69L376.17 439.80L378.11 435.97L380.04 428.86L381.97 425.03L384.08 428.59L386.19 435.19L388.30 438.74L390.23 435.32L392.16 428.98L394.10 425.56L396.39 431.62L398.69 437.69L400.80 434.68L402.91 429.10L405.02 426.09L406.95 429.37L408.88 435.46L410.82 438.74L412.75 435.19L414.68 428.59L416.62 425.03L418.55 428.72L420.48 435.58L422.41 439.27L424.24 435.44L426.07 428.33L427.90 424.51L429.87 428.47L431.83 435.83L433.80 439.80L435.63 435.64L437.46 427.92L439.29 423.77L441.22 428.33L443.15 436.81L445.08 441.38L446.84 436.32L448.60 426.93L450.36 421.87L452.29 427.47L454.22 437.88L456.16 443.49L457.98 437.34L459.81 425.91L461.64 419.76L463.50 426.32L465.36 438.51L467.23 445.07L469.16 437.96L471.09 424.76L473.03 417.65L474.96 425.44L476.89 439.91L478.83 447.70L480.69 443.81L482.55 432.54L484.41 414.49" stroke="#ff0000"/>
</g>
<rect x="309.54" y="375.87" width="174.92" height="112.51" fill="none" stroke="#333333" stroke-width="1.15" stroke-linejoin="round"/>
<text transform="translate(302.84 381.43) scale(1 1.04)" text-anchor="end" font-size="14.3">0.5</text>
<text transform="translate(302.84 438.33) scale(1 1.04)" text-anchor="end" font-size="14.3">0</text>
<text transform="translate(302.84 495.24) scale(1 1.04)" text-anchor="end" font-size="14.3">-0.5</text>
<text transform="translate(309.24 509.78) scale(1 1.04)" text-anchor="middle" font-size="14.3">Sep 07</text>
<text transform="translate(396.70 509.78) scale(1 1.04)" text-anchor="middle" font-size="14.3">Sep 09</text>
<text transform="translate(484.16 509.78) scale(1 1.04)" text-anchor="middle" font-size="14.3">Sep 11</text>
<text transform="translate(471.46 529.78) scale(1 1.04)" text-anchor="end" font-size="14.3">2011</text>
<text transform="translate(270.64 442.80) rotate(-90) scale(1 1.04)" font-size="16">D4</text>
<text transform="translate(260.00 375.10) scale(1 1.04)" font-size="17.2">F</text>
<line x1="608.37" y1="375.87" x2="608.37" y2="488.38" stroke="#e4e4e4" stroke-width="1.2"/>
<line x1="652.33" y1="375.87" x2="652.33" y2="488.38" stroke="#e4e4e4" stroke-width="1.2"/>
<line x1="696.29" y1="375.87" x2="696.29" y2="488.38" stroke="#e4e4e4" stroke-width="1.2"/>
<line x1="564.40" y1="432.12" x2="740.26" y2="432.12" stroke="#e4e4e4" stroke-width="1.2"/>
<line x1="564.40" y1="488.38" x2="564.40" y2="486.58" stroke="#262626" stroke-width="1"/>
<line x1="564.40" y1="375.87" x2="564.40" y2="377.67" stroke="#262626" stroke-width="1"/>
<line x1="608.37" y1="488.38" x2="608.37" y2="486.58" stroke="#262626" stroke-width="1"/>
<line x1="608.37" y1="375.87" x2="608.37" y2="377.67" stroke="#262626" stroke-width="1"/>
<line x1="652.33" y1="488.38" x2="652.33" y2="486.58" stroke="#262626" stroke-width="1"/>
<line x1="652.33" y1="375.87" x2="652.33" y2="377.67" stroke="#262626" stroke-width="1"/>
<line x1="696.29" y1="488.38" x2="696.29" y2="486.58" stroke="#262626" stroke-width="1"/>
<line x1="696.29" y1="375.87" x2="696.29" y2="377.67" stroke="#262626" stroke-width="1"/>
<line x1="740.26" y1="488.38" x2="740.26" y2="486.58" stroke="#262626" stroke-width="1"/>
<line x1="740.26" y1="375.87" x2="740.26" y2="377.67" stroke="#262626" stroke-width="1"/>
<line x1="564.40" y1="375.87" x2="566.20" y2="375.87" stroke="#262626" stroke-width="1"/>
<line x1="740.26" y1="375.87" x2="738.46" y2="375.87" stroke="#262626" stroke-width="1"/>
<line x1="564.40" y1="432.12" x2="566.20" y2="432.12" stroke="#262626" stroke-width="1"/>
<line x1="740.26" y1="432.12" x2="738.46" y2="432.12" stroke="#262626" stroke-width="1"/>
<line x1="564.40" y1="488.38" x2="566.20" y2="488.38" stroke="#262626" stroke-width="1"/>
<line x1="740.26" y1="488.38" x2="738.46" y2="488.38" stroke="#262626" stroke-width="1"/>
<g clip-path="url(#cp22)" fill="none" stroke-width="2.00" stroke-linejoin="round" stroke-linecap="round">
<path d="M564.65 420.03L566.30 445.95L567.95 456.92L569.92 444.29L571.90 420.81L573.88 408.18L575.63 420.81L577.39 444.29L579.15 456.92L581.12 444.29L583.10 420.81L585.07 408.18L586.83 420.81L588.59 444.29L590.34 456.92L592.23 444.11L594.12 420.33L596.01 407.52L597.85 420.33L599.70 444.11L601.54 456.92L603.39 443.94L605.23 419.84L607.08 406.86L608.97 420.01L610.85 444.43L612.74 457.58L614.72 444.43L616.69 420.01L618.67 406.86L620.78 420.18L622.89 444.92L625.00 458.24L626.84 444.58L628.68 419.20L630.53 405.54L632.37 419.54L634.22 445.55L636.06 459.56L637.95 445.72L639.84 420.03L641.73 406.20L643.70 419.52L645.68 444.26L647.66 457.58L649.33 444.26L651.00 419.52L652.68 406.20L654.65 419.18L656.63 443.28L658.61 456.26L660.58 443.80L662.56 420.64L664.53 408.18L666.51 420.30L668.49 442.82L670.46 454.95L672.57 442.99L674.68 420.79L676.79 408.83L678.63 421.98L680.48 446.41L682.32 459.56L684.30 445.21L686.27 418.57L688.25 404.22L690.01 419.08L691.76 446.68L693.52 461.53L695.41 446.68L697.30 419.08L699.18 404.22L701.03 418.74L702.87 445.70L704.72 460.22L706.56 446.04L708.41 419.72L710.25 405.54L712.01 419.03L713.77 444.09L715.52 457.58L717.41 444.60L719.30 420.50L721.19 407.52L723.08 420.33L724.96 444.11L726.85 456.92L728.70 444.11L730.54 420.33L732.39 407.52L734.36 419.98L736.34 443.14L738.32 455.61L739.96 449.83L741.61 434.53" stroke="#0000ff"/>
<path d="M563.71 438.48L565.69 431.48L567.66 427.33L569.64 425.96L571.62 429.38L573.59 435.72L575.57 439.14L577.33 435.38L579.08 428.40L580.84 424.64L582.82 428.57L584.79 435.87L586.77 439.80L588.52 435.87L590.28 428.57L592.04 424.64L594.01 428.74L595.99 436.36L597.97 440.45L599.94 435.84L601.92 427.28L603.90 422.67L605.87 427.28L607.85 435.84L609.82 440.45L611.80 435.84L613.78 427.28L615.75 422.67L617.73 427.11L619.71 435.36L621.68 439.80L623.44 435.53L625.20 427.60L626.95 423.33L628.93 427.43L630.91 435.04L632.88 439.14L634.64 435.38L636.39 428.40L638.15 424.64L640.13 428.23L642.10 434.89L644.08 438.48L646.26 431.56L648.44 424.64L650.75 431.89L653.05 439.14L655.03 435.72L657.01 429.38L658.98 425.96L660.74 428.69L662.49 433.77L664.25 436.50L666.01 434.90L667.76 431.92L669.52 430.31L671.50 431.06L673.47 432.46L675.45 433.21L677.21 432.39L678.96 430.76L680.72 429.52L682.37 428.93L684.01 428.43L685.66 428.07L687.31 427.94L689.06 430.33L690.82 434.77L692.58 437.16L694.33 434.77L696.09 430.33L697.85 427.94L699.61 430.16L701.36 434.28L703.12 436.50L704.88 434.62L706.63 431.13L708.39 429.26L710.15 431.31L711.90 435.11L713.66 437.16L715.63 434.43L717.61 429.35L719.59 426.62L721.89 432.88L724.20 439.14L725.96 435.55L727.71 428.89L729.47 425.30L731.45 429.06L733.42 436.04L735.40 439.80L737.70 435.56L740.01 424.64" stroke="#000000"/>
<path d="M563.95 425.30L565.60 449.12L567.25 458.90L569.22 445.07L571.20 419.37L573.18 405.54L574.93 419.20L576.69 444.58L578.45 458.24L580.42 444.75L582.40 419.69L584.37 406.20L586.13 419.86L587.89 445.24L589.64 458.90L591.53 445.07L593.42 419.37L595.31 405.54L597.15 419.20L599.00 444.58L600.84 458.24L602.69 444.51L604.53 419.01L606.38 405.28L608.27 419.18L610.15 445.00L612.04 458.90L614.02 445.00L615.99 419.18L617.97 405.28L620.08 419.35L622.19 445.49L624.30 459.56L626.14 445.04L627.98 418.08L629.83 403.56L631.67 418.42L633.52 446.02L635.36 460.88L637.25 446.26L639.14 419.11L641.03 404.49L643.00 418.59L644.98 444.79L646.96 458.90L648.63 445.41L650.30 420.35L651.98 406.86L653.95 419.67L655.93 443.46L657.91 456.26L659.88 443.97L661.86 421.13L663.83 408.83L665.81 420.79L667.79 442.99L669.76 454.95L671.87 442.48L673.98 419.33L676.09 406.86L677.93 420.86L679.78 446.87L681.62 460.88L683.60 445.33L685.57 416.47L687.55 400.93L689.31 417.15L691.06 447.29L692.82 463.51L694.71 447.29L696.60 417.15L698.48 400.93L700.33 416.81L702.17 446.31L704.02 462.19L705.86 446.99L707.71 418.76L709.55 403.56L711.31 417.91L713.07 444.55L714.82 458.90L716.71 445.07L718.60 419.37L720.49 405.54L722.38 419.37L724.26 445.07L726.15 458.90L728.00 444.90L729.84 418.89L731.69 404.88L733.66 418.89L735.64 444.90L737.62 458.90L739.26 448.49L740.91 423.33" stroke="#ff0000"/>
</g>
<rect x="564.40" y="375.87" width="175.86" height="112.51" fill="none" stroke="#333333" stroke-width="1.15" stroke-linejoin="round"/>
<text transform="translate(557.70 381.43) scale(1 1.04)" text-anchor="end" font-size="14.3">0.5</text>
<text transform="translate(557.70 438.33) scale(1 1.04)" text-anchor="end" font-size="14.3">0</text>
<text transform="translate(557.70 495.24) scale(1 1.04)" text-anchor="end" font-size="14.3">-0.5</text>
<text transform="translate(564.10 509.78) scale(1 1.04)" text-anchor="middle" font-size="14.3">Oct 28</text>
<text transform="translate(652.03 509.78) scale(1 1.04)" text-anchor="middle" font-size="14.3">Oct 30</text>
<text transform="translate(739.96 509.78) scale(1 1.04)" text-anchor="middle" font-size="14.3">Nov 01</text>
<text transform="translate(728.96 529.78) scale(1 1.04)" text-anchor="end" font-size="14.3">2012</text>
<text transform="translate(525.50 442.80) rotate(-90) scale(1 1.04)" font-size="16">D4</text>
<text transform="translate(513.50 375.10) scale(1 1.04)" font-size="17.2">I</text>
<line x1="864.01" y1="375.87" x2="864.01" y2="488.38" stroke="#e4e4e4" stroke-width="1.2"/>
<line x1="907.75" y1="375.87" x2="907.75" y2="488.38" stroke="#e4e4e4" stroke-width="1.2"/>
<line x1="951.49" y1="375.87" x2="951.49" y2="488.38" stroke="#e4e4e4" stroke-width="1.2"/>
<line x1="820.27" y1="432.12" x2="995.23" y2="432.12" stroke="#e4e4e4" stroke-width="1.2"/>
<line x1="820.27" y1="488.38" x2="820.27" y2="486.58" stroke="#262626" stroke-width="1"/>
<line x1="820.27" y1="375.87" x2="820.27" y2="377.67" stroke="#262626" stroke-width="1"/>
<line x1="864.01" y1="488.38" x2="864.01" y2="486.58" stroke="#262626" stroke-width="1"/>
<line x1="864.01" y1="375.87" x2="864.01" y2="377.67" stroke="#262626" stroke-width="1"/>
<line x1="907.75" y1="488.38" x2="907.75" y2="486.58" stroke="#262626" stroke-width="1"/>
<line x1="907.75" y1="375.87" x2="907.75" y2="377.67" stroke="#262626" stroke-width="1"/>
<line x1="951.49" y1="488.38" x2="951.49" y2="486.58" stroke="#262626" stroke-width="1"/>
<line x1="951.49" y1="375.87" x2="951.49" y2="377.67" stroke="#262626" stroke-width="1"/>
<line x1="995.23" y1="488.38" x2="995.23" y2="486.58" stroke="#262626" stroke-width="1"/>
<line x1="995.23" y1="375.87" x2="995.23" y2="377.67" stroke="#262626" stroke-width="1"/>
<line x1="820.27" y1="375.87" x2="822.07" y2="375.87" stroke="#262626" stroke-width="1"/>
<line x1="995.23" y1="375.87" x2="993.43" y2="375.87" stroke="#262626" stroke-width="1"/>
<line x1="820.27" y1="432.12" x2="822.07" y2="432.12" stroke="#262626" stroke-width="1"/>
<line x1="995.23" y1="432.12" x2="993.43" y2="432.12" stroke="#262626" stroke-width="1"/>
<line x1="820.27" y1="488.38" x2="822.07" y2="488.38" stroke="#262626" stroke-width="1"/>
<line x1="995.23" y1="488.38" x2="993.43" y2="488.38" stroke="#262626" stroke-width="1"/>
<g clip-path="url(#cp23)" fill="none" stroke-width="2.00" stroke-linejoin="round" stroke-linecap="round">
<path d="M820.01 443.75L820.93 449.02L822.91 439.97L824.88 423.16L826.86 414.10L828.70 422.99L830.55 439.48L832.39 448.36L834.28 439.65L836.17 423.47L838.06 414.76L839.81 423.30L841.57 439.16L843.33 447.70L845.22 439.33L847.10 423.79L848.99 415.42L850.84 423.79L852.68 439.33L854.53 447.70L856.37 439.50L858.21 424.28L860.06 416.08L861.95 424.11L863.84 439.02L865.72 447.04L867.61 439.19L869.50 424.60L871.39 416.74L873.23 424.42L875.08 438.70L876.92 446.38L878.90 438.87L880.88 424.91L882.85 417.40L884.61 424.74L886.37 438.38L888.12 445.72L890.10 438.38L892.08 424.74L894.05 417.40L896.03 424.91L898.00 438.87L899.98 446.38L901.87 438.87L903.77 424.91L905.66 417.40L907.42 425.94L909.17 441.80L910.93 450.34L912.82 440.77L914.71 423.01L916.59 413.45L918.44 423.69L920.28 442.72L922.13 452.97L923.97 442.21L925.82 422.23L927.66 411.47L929.55 421.89L931.44 441.24L933.33 451.65L935.22 441.75L937.10 423.35L938.99 413.45L940.84 423.01L942.68 440.77L944.53 450.34L946.63 441.45L948.74 424.96L950.85 416.08L952.91 424.28L954.98 439.50L957.04 447.70L958.93 439.84L960.82 425.25L962.71 417.40L964.55 424.91L966.40 438.87L968.24 446.38L970.09 439.04L971.93 425.40L973.77 418.06L975.79 425.23L977.82 438.55L979.84 445.72L981.77 438.55L983.70 425.23L985.63 418.06L987.52 425.40L989.41 439.04L991.30 446.38L993.60 441.79L995.91 427.94" stroke="#0000ff"/>
<path d="M820.01 439.80L821.85 431.62L823.70 426.45L825.54 424.64L827.52 428.23L829.49 434.89L831.47 438.48L833.23 434.89L834.98 428.23L836.74 424.64L838.72 428.40L840.69 435.38L842.67 439.14L844.42 435.55L846.18 428.89L847.94 425.30L849.91 428.89L851.89 435.55L853.87 439.14L855.62 435.38L857.38 428.40L859.14 424.64L861.11 428.40L863.09 435.38L865.07 439.14L866.82 435.38L868.58 428.40L870.34 424.64L872.31 428.23L874.29 434.89L876.26 438.48L878.24 434.89L880.22 428.23L882.19 424.64L883.95 428.23L885.71 434.89L887.46 438.48L889.44 435.06L891.42 428.72L893.39 425.30L895.15 428.72L896.91 435.06L898.66 438.48L900.56 434.55L902.45 427.25L904.34 423.33L906.32 429.48L908.29 440.89L910.27 447.04L912.25 439.02L914.22 424.11L916.20 416.08L917.96 424.62L919.71 440.48L921.47 449.02L923.45 440.14L925.42 423.64L927.40 414.76L929.37 423.30L931.35 439.16L933.33 447.70L935.22 439.50L937.10 424.28L938.99 416.08L941.06 423.60L943.12 437.55L945.18 445.07L946.94 438.06L948.70 425.06L950.45 418.06L952.43 424.03L954.41 435.14L956.38 441.11L958.14 436.84L959.90 428.91L961.65 424.64L963.63 428.23L965.61 434.89L967.58 438.48L969.56 435.23L971.53 429.21L973.51 425.96L975.49 429.04L977.46 434.75L979.44 437.82L981.42 434.75L983.39 429.04L985.37 425.96L987.35 429.21L989.32 435.23L991.30 438.48L993.60 435.42L995.91 427.28" stroke="#000000"/>
<path d="M820.01 451.65L820.93 456.92L822.99 443.94L825.06 419.84L827.12 406.86L828.88 419.84L830.63 443.94L832.39 456.92L834.28 444.11L836.17 420.33L838.06 407.52L839.81 419.98L841.57 443.14L843.33 455.61L845.22 443.31L847.10 420.47L848.99 408.18L850.84 420.30L852.68 442.82L854.53 454.95L856.37 443.09L858.21 421.08L860.06 409.23L861.95 420.74L863.84 442.12L865.72 453.63L867.61 442.60L869.50 422.11L871.39 411.07L873.23 421.59L875.08 441.13L876.92 451.65L878.90 441.58L880.88 422.86L882.85 412.79L884.61 422.52L886.37 440.60L888.12 450.34L890.10 440.60L892.08 422.52L894.05 412.79L896.03 422.86L898.00 441.58L899.98 451.65L901.87 441.06L903.77 421.40L905.66 410.81L907.42 422.42L909.17 443.99L910.93 455.61L912.91 442.90L914.88 419.30L916.86 406.59L918.61 420.33L920.37 445.83L922.13 459.56L924.10 445.14L926.08 418.37L928.06 403.96L929.81 418.37L931.57 445.14L933.33 459.56L935.22 445.72L937.10 420.03L938.99 406.20L940.84 419.01L942.68 442.80L944.53 455.61L946.63 443.99L948.74 422.42L950.85 410.81L952.91 421.74L954.98 442.04L957.04 452.97L958.93 442.21L960.82 422.23L962.71 411.47L964.55 421.89L966.40 441.24L968.24 451.65L970.09 441.58L971.93 422.86L973.77 412.79L975.79 422.52L977.82 440.60L979.84 450.34L981.77 440.77L983.70 423.01L985.63 413.45L987.52 423.18L989.41 441.26L991.30 450.99L993.60 442.62L995.91 419.37" stroke="#ff0000"/>
</g>
<rect x="820.27" y="375.87" width="174.96" height="112.51" fill="none" stroke="#333333" stroke-width="1.15" stroke-linejoin="round"/>
<text transform="translate(813.57 381.43) scale(1 1.04)" text-anchor="end" font-size="14.3">0.5</text>
<text transform="translate(813.57 438.33) scale(1 1.04)" text-anchor="end" font-size="14.3">0</text>
<text transform="translate(813.57 495.24) scale(1 1.04)" text-anchor="end" font-size="14.3">-0.5</text>
<text transform="translate(863.71 509.78) scale(1 1.04)" text-anchor="middle" font-size="14.3">Sep 18</text>
<text transform="translate(951.19 509.78) scale(1 1.04)" text-anchor="middle" font-size="14.3">Sep 20</text>
<text transform="translate(983.93 529.78) scale(1 1.04)" text-anchor="end" font-size="14.3">2003</text>
<text transform="translate(781.37 442.80) rotate(-90) scale(1 1.04)" font-size="16">D4</text>
<text transform="translate(766.90 375.10) scale(1 1.04)" font-size="17.2">L</text>
<text transform="translate(141.61 14.6) scale(1 1.04)" text-anchor="middle" font-size="16">Irene</text>
<text transform="translate(397.00 14.6) scale(1 1.04)" text-anchor="middle" font-size="16">Lee</text>
<text transform="translate(652.33 14.6) scale(1 1.04)" text-anchor="middle" font-size="16">Sandy</text>
<text transform="translate(907.75 14.6) scale(1 1.04)" text-anchor="middle" font-size="16">Isabel</text>
<rect x="377.7" y="540.3" width="322.7" height="24.5" fill="#fff" stroke="#333333" stroke-width="1.1" stroke-linejoin="round"/>
<line x1="380.6" y1="552.9" x2="416.4" y2="552.9" stroke="#0000ff" stroke-width="2"/>
<line x1="470.8" y1="552.9" x2="506.9" y2="552.9" stroke="#000000" stroke-width="2"/>
<line x1="556.2" y1="552.9" x2="592.3" y2="552.9" stroke="#ff0000" stroke-width="2"/>
<text transform="translate(420.0 558.8) scale(1 1.04)" font-size="16.6">Tides</text>
<text transform="translate(510.7 558.8) scale(1 1.04)" font-size="16.6">TSRI</text>
<text transform="translate(595.5 558.8) scale(1 1.04)" font-size="16.6">Tides + TSRI</text>
</svg>
</body></html>
